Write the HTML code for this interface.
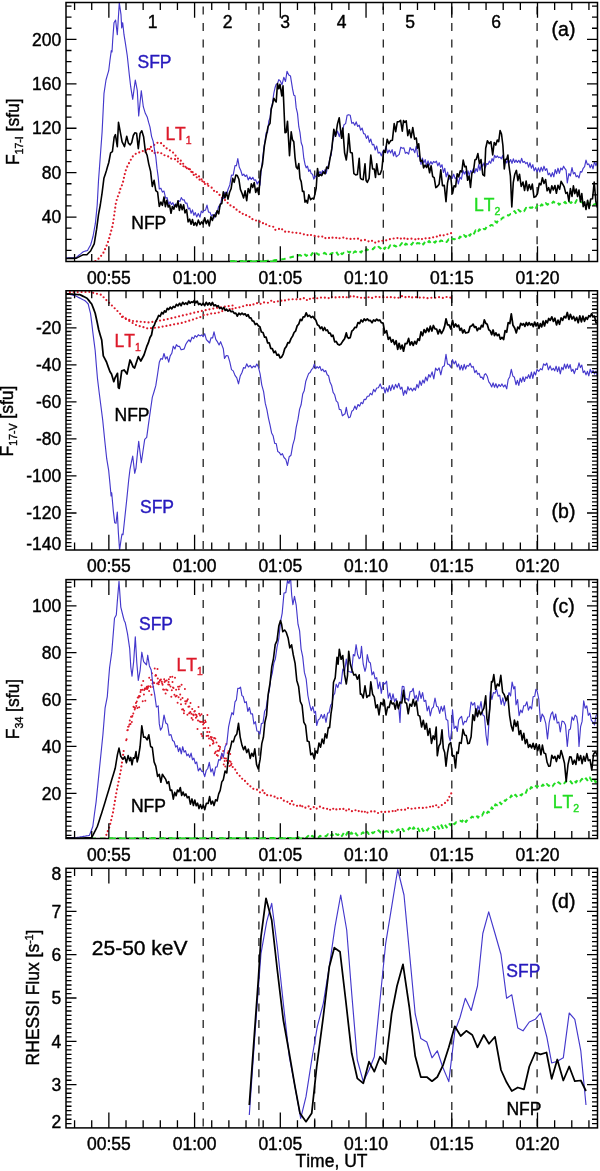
<!DOCTYPE html>
<html><head><meta charset="utf-8"><style>html,body{margin:0;padding:0;background:#fff;}svg{display:block;}text{stroke-width:0.4px;font-kerning:none;}</style></head>
<body><svg width="600" height="1171" viewBox="0 0 600 1171" font-family="'Liberation Sans', Arial, Helvetica, sans-serif" font-size="17.5"><rect width="600" height="1171" fill="#fff"/><defs><clipPath id="cpa"><rect x="66.0" y="2.5" width="531.5" height="259.0"/></clipPath><clipPath id="cpb"><rect x="66.0" y="290.75" width="531.5" height="259.25"/></clipPath><clipPath id="cpc"><rect x="66.0" y="579.6" width="531.5" height="258.9"/></clipPath><clipPath id="cpd"><rect x="66.0" y="868.3" width="531.5" height="259.60000000000014"/></clipPath></defs><line x1="203.2" y1="6.6" x2="203.2" y2="261.5" stroke="#222" stroke-width="1.3" stroke-dasharray="8 8.4"/><line x1="258.9" y1="6.6" x2="258.9" y2="261.5" stroke="#222" stroke-width="1.3" stroke-dasharray="8 8.4"/><line x1="314.7" y1="6.6" x2="314.7" y2="261.5" stroke="#222" stroke-width="1.3" stroke-dasharray="8 8.4"/><line x1="383.3" y1="6.6" x2="383.3" y2="261.5" stroke="#222" stroke-width="1.3" stroke-dasharray="8 8.4"/><line x1="451.8" y1="6.6" x2="451.8" y2="261.5" stroke="#222" stroke-width="1.3" stroke-dasharray="8 8.4"/><line x1="537.1" y1="6.6" x2="537.1" y2="261.5" stroke="#222" stroke-width="1.3" stroke-dasharray="8 8.4"/><line x1="203.2" y1="294.9" x2="203.2" y2="550.0" stroke="#222" stroke-width="1.3" stroke-dasharray="8 8.4"/><line x1="258.9" y1="294.9" x2="258.9" y2="550.0" stroke="#222" stroke-width="1.3" stroke-dasharray="8 8.4"/><line x1="314.7" y1="294.9" x2="314.7" y2="550.0" stroke="#222" stroke-width="1.3" stroke-dasharray="8 8.4"/><line x1="383.3" y1="294.9" x2="383.3" y2="550.0" stroke="#222" stroke-width="1.3" stroke-dasharray="8 8.4"/><line x1="451.8" y1="294.9" x2="451.8" y2="550.0" stroke="#222" stroke-width="1.3" stroke-dasharray="8 8.4"/><line x1="537.1" y1="294.9" x2="537.1" y2="550.0" stroke="#222" stroke-width="1.3" stroke-dasharray="8 8.4"/><line x1="203.2" y1="583.7" x2="203.2" y2="838.5" stroke="#222" stroke-width="1.3" stroke-dasharray="8 8.4"/><line x1="258.9" y1="583.7" x2="258.9" y2="838.5" stroke="#222" stroke-width="1.3" stroke-dasharray="8 8.4"/><line x1="314.7" y1="583.7" x2="314.7" y2="838.5" stroke="#222" stroke-width="1.3" stroke-dasharray="8 8.4"/><line x1="383.3" y1="583.7" x2="383.3" y2="838.5" stroke="#222" stroke-width="1.3" stroke-dasharray="8 8.4"/><line x1="451.8" y1="583.7" x2="451.8" y2="838.5" stroke="#222" stroke-width="1.3" stroke-dasharray="8 8.4"/><line x1="537.1" y1="583.7" x2="537.1" y2="838.5" stroke="#222" stroke-width="1.3" stroke-dasharray="8 8.4"/><line x1="203.2" y1="872.4" x2="203.2" y2="1127.9" stroke="#222" stroke-width="1.3" stroke-dasharray="8 8.4"/><line x1="258.9" y1="872.4" x2="258.9" y2="1127.9" stroke="#222" stroke-width="1.3" stroke-dasharray="8 8.4"/><line x1="314.7" y1="872.4" x2="314.7" y2="1127.9" stroke="#222" stroke-width="1.3" stroke-dasharray="8 8.4"/><line x1="383.3" y1="872.4" x2="383.3" y2="1127.9" stroke="#222" stroke-width="1.3" stroke-dasharray="8 8.4"/><line x1="451.8" y1="872.4" x2="451.8" y2="1127.9" stroke="#222" stroke-width="1.3" stroke-dasharray="8 8.4"/><line x1="537.1" y1="872.4" x2="537.1" y2="1127.9" stroke="#222" stroke-width="1.3" stroke-dasharray="8 8.4"/><g clip-path="url(#cpa)"><polyline points="230.3,261.3 232.3,261.3 234.3,261.2 236.3,261.2 238.2,261.2 240.2,261.2 242.2,261.2 244.2,261.1 246.2,261.1 248.2,261.1 250.2,261.1 252.1,261.0 254.1,261.0 256.1,261.0 258.1,260.9 260.1,260.9 262.1,260.9 264.0,260.9 266.0,260.9 268.0,260.8 270.0,260.8 272.0,260.5 274.0,260.3 276.0,260.0 278.0,259.8 280.0,259.5 282.0,259.3 284.0,259.0 286.0,258.5 288.0,258.0 290.0,257.5 292.0,257.0 294.0,256.5 296.0,256.0 298.0,255.5 300.1,255.0 302.2,256.5 304.2,253.9 306.3,255.9 308.4,254.3 310.5,256.2 312.5,253.1 314.6,255.4 316.7,253.3 318.6,254.7 320.6,254.0 322.5,254.8 324.5,252.8 326.4,254.1 328.4,252.3 330.3,254.2 332.2,253.0 334.2,253.7 336.1,251.6 338.1,254.7 340.0,251.6 341.9,254.2 343.8,252.7 345.7,253.4 347.6,251.5 349.5,252.7 351.4,250.4 353.3,252.8 355.2,251.3 357.2,252.9 359.1,250.8 361.1,252.5 363.1,249.6 365.0,251.3 366.9,249.2 368.9,250.6 370.9,248.9 372.8,249.3 374.8,247.2 376.7,249.0 378.6,246.8 380.6,248.4 382.5,245.9 384.5,249.0 386.4,245.6 388.4,248.2 390.3,245.3 392.2,247.5 394.2,245.5 396.1,246.5 398.1,243.8 400.0,245.5 401.9,243.1 403.9,246.2 405.8,243.6 407.8,245.0 409.7,243.1 411.6,244.6 413.6,241.8 415.5,244.3 417.5,243.1 419.4,243.4 421.4,241.5 423.3,244.5 425.2,241.5 427.2,243.3 429.1,241.0 431.1,243.3 433.1,241.2 435.0,242.7 436.9,240.2 438.9,242.3 440.9,240.5 442.8,241.1 444.8,239.8 446.7,242.0 448.6,239.3 450.5,240.8 452.4,238.7 454.3,239.3 456.2,238.4 458.1,239.8 460.0,236.6 461.9,238.0 463.9,235.1 465.9,236.9 467.8,233.2 469.8,235.8 471.7,232.5 473.6,234.5 475.6,230.4 477.5,232.7 479.4,229.3 481.4,231.3 483.3,229.0 485.2,229.2 487.2,225.9 489.1,226.7 491.1,224.9 493.1,225.5 495.0,221.4 496.9,222.6 498.9,218.9 500.9,219.5 502.8,217.6 504.8,217.6 506.7,215.0 508.6,215.5 510.6,214.0 512.5,214.2 514.4,211.1 516.4,213.8 518.3,209.8 520.2,211.6 522.2,209.5 524.1,211.2 526.1,207.8 528.0,209.6 530.0,207.5 532.0,207.8 533.9,205.4 535.9,208.0 537.8,204.5 539.8,206.8 541.7,204.4 543.6,206.0 545.6,203.0 547.5,204.8 549.4,202.7 551.4,204.0 553.3,201.6 555.2,203.1 557.2,201.7 559.1,204.7 561.1,202.8 563.0,204.1 565.0,201.8 567.0,204.4 568.9,201.5 570.9,203.0 572.8,201.4 574.8,203.8 576.7,200.1 578.6,202.4 580.6,201.9 582.5,202.7 584.4,202.4 586.4,203.7 588.3,202.6 590.1,205.1 592.0,202.7 593.8,204.7 595.7,203.8 597.5,205.3" fill="none" stroke="#22dd22" stroke-width="2.0" stroke-linejoin="round" stroke-dasharray="4.5 4"/><polyline points="95.4,261.0 97.6,259.4 99.7,257.7 101.5,255.3 103.3,253.0 105.9,247.3 108.0,242.0 109.6,236.9 111.1,231.1 112.7,225.4 114.3,214.5 115.8,203.5 117.4,197.3 119.0,194.2 120.5,188.4 122.6,183.8 124.7,174.4 126.3,168.6 127.8,165.5 129.4,162.4 130.9,159.6 132.5,156.7 134.6,154.8 136.7,153.0 138.4,152.5 140.2,152.4 141.9,151.5 143.6,150.7 145.4,152.6 147.1,149.4 149.2,148.4 151.2,146.7 153.3,145.2 155.3,144.6 157.3,142.9 159.3,142.3 161.2,143.2 163.1,145.5 164.9,146.2 166.8,148.5 168.7,149.3 170.6,151.0 172.4,151.8 174.3,154.0 176.1,156.2 178.0,158.7 179.9,159.1 181.7,162.4 183.6,164.1 185.4,166.8 187.3,168.0 189.2,169.2 191.1,171.6 192.9,174.0 194.8,176.0 196.7,177.3 198.6,178.0 200.4,181.2 202.3,181.0 204.1,183.8 206.0,184.3 207.8,185.4 209.6,186.7 211.4,187.4 213.3,189.6 215.1,192.5 216.9,192.0 218.7,193.7 220.6,196.5 222.4,198.3 224.3,199.0 226.1,201.8 228.0,203.0 229.9,205.3 231.7,205.6 233.6,206.9 235.4,209.3 237.3,210.0 239.2,211.4 241.1,213.7 242.9,213.8 244.8,213.9 246.7,215.8 248.6,216.7 250.4,216.9 252.3,219.1 254.1,220.0 256.0,220.5 257.8,221.0 259.5,221.4 261.2,223.2 263.0,223.2 264.8,224.9 266.5,224.2 268.2,225.4 270.0,226.3 271.8,226.5 273.5,226.8 275.2,229.8 277.0,229.7 278.8,228.8 280.5,230.3 282.2,229.3 284.0,231.0 285.8,232.1 287.5,232.3 289.2,231.6 291.0,231.9 292.8,232.6 294.5,233.0 296.2,232.8 298.0,233.3 299.8,233.1 301.5,233.7 303.2,233.9 305.0,235.0 306.8,234.9 308.5,235.3 310.2,234.4 312.0,235.7 313.8,235.8 315.5,236.0 317.2,236.2 319.0,236.8 320.8,237.0 322.5,236.5 324.2,238.3 326.0,238.0 327.8,238.6 329.5,237.7 331.2,238.4 333.0,237.4 334.8,237.2 336.5,237.9 338.2,239.0 340.0,238.0 341.9,238.1 343.8,237.4 345.7,238.7 347.6,238.3 349.5,238.4 351.4,239.3 353.3,239.2 355.1,238.3 356.9,238.4 358.7,238.8 360.5,240.6 362.3,240.2 364.1,239.9 365.9,240.0 367.7,241.1 369.5,241.6 371.3,240.5 373.1,241.3 374.9,242.8 376.7,241.5 378.4,241.6 380.2,240.7 381.9,240.9 383.7,240.4 385.4,240.5 387.2,240.0 388.9,239.2 390.7,239.1 392.4,239.1 394.2,238.2 395.9,238.4 397.7,238.0 399.5,237.5 401.4,239.0 403.2,239.3 405.0,237.8 406.8,239.0 408.7,238.7 410.5,238.7 412.3,238.6 414.2,239.0 416.0,239.5 417.8,238.2 419.6,239.7 421.5,239.0 423.3,239.2 425.1,238.2 427.0,238.5 428.8,238.5 430.6,237.7 432.5,237.6 434.3,236.8 436.1,236.3 438.0,236.9 439.8,235.3 441.7,236.1 443.5,235.4 445.3,234.6 447.2,234.3 449.0,234.0 451.5,233.0" fill="none" stroke="#dd1a2a" stroke-width="2.2" stroke-linejoin="round" stroke-dasharray="0 3.9" stroke-linecap="round"/><polyline points="146.0,150.0 147.8,149.8 149.5,148.9 151.2,151.4 153.0,150.5 155.0,153.4 157.0,152.1 159.0,153.4 161.0,153.0 163.0,154.9 165.0,155.4 167.0,156.3 169.0,156.5 171.0,158.6 173.0,158.8 175.0,159.1 177.0,161.5 179.0,161.6 181.0,164.8 183.0,166.0 185.0,167.0 187.0,168.3 189.0,168.0 191.0,170.9 193.0,172.5 195.0,173.9 197.0,174.7 199.0,176.4 201.0,178.5 202.8,181.5 204.5,182.3 206.2,183.2 208.0,184.0" fill="none" stroke="#dd1a2a" stroke-width="2.2" stroke-linejoin="round" stroke-dasharray="0 3.9" stroke-linecap="round"/><polyline points="66.0,257.8 67.4,257.8 68.9,257.8 70.3,257.8 71.7,257.7 73.1,257.7 74.6,257.7 76.0,257.7 77.5,256.5 78.9,255.3 80.4,254.1 81.8,252.9 83.3,251.7 84.7,251.3 86.1,250.9 87.5,250.5 89.0,247.8 90.6,245.0 91.8,240.8 93.0,236.5 94.2,229.8 95.4,223.2 97.2,205.0 98.5,180.7 100.3,156.4 102.1,132.0 104.0,93.3 106.0,80.0 107.3,75.3 108.7,70.7 110.0,60.0 111.3,50.7 112.0,52.0 112.7,40.0 114.0,22.7 115.6,20.0 117.3,34.7 119.3,2.8 121.0,14.7 121.7,28.0 122.7,22.7 124.0,34.7 125.3,42.7 127.3,56.0 129.3,74.7 130.7,86.7 132.7,99.3 134.0,89.7 135.3,80.0 137.3,90.7 138.7,116.0 140.0,103.3 141.3,90.7 143.3,106.7 145.3,113.3 147.3,117.3 148.7,122.7 150.0,127.2 151.6,136.6 153.1,141.1 154.7,151.0 155.8,156.9 157.0,168.4 158.2,177.1 159.3,189.0 160.9,188.2 162.4,192.1 164.0,191.1 165.6,198.2 167.1,197.6 168.7,204.4 170.1,201.7 171.5,204.5 172.9,202.6 174.3,207.2 175.7,203.8 177.1,205.9 178.5,200.7 179.9,201.4 181.3,197.6 182.7,200.0 184.1,199.7 185.5,203.2 186.9,203.0 188.3,209.0 189.7,208.0 191.1,213.3 192.5,209.9 193.9,215.3 195.3,212.6 196.7,216.9 198.3,213.4 200.0,217.2 201.3,211.1 202.7,212.7 204.0,210.5 205.5,210.1 207.0,205.1 208.5,212.1 210.0,212.3 211.3,215.9 212.7,214.6 214.0,218.1 215.6,212.8 217.1,212.4 218.7,206.1 220.2,206.2 221.8,198.0 223.3,198.5 224.9,192.1 226.4,195.5 228.0,189.5 229.8,184.9 231.5,175.0 233.2,175.2 235.0,165.6 236.4,165.8 237.8,158.5 239.3,167.3 240.8,170.5 242.3,175.5 243.8,174.1 245.2,176.5 246.7,175.0 248.2,179.9 249.8,176.9 251.3,179.5 252.8,177.3 254.2,180.2 255.7,179.9 257.2,184.1 258.6,181.2 260.0,185.3 261.2,170.8 262.5,160.3 263.8,148.0 265.0,141.0 266.2,132.6 267.5,132.6 268.8,121.1 270.0,117.7 271.2,107.8 272.5,102.9 273.8,93.3 275.0,87.8 276.2,84.3 277.5,83.7 278.8,79.6 280.0,80.6 282.0,84.7 283.8,77.3 285.5,81.5 287.0,71.3 288.8,75.1 290.5,76.1 292.5,88.7 293.8,95.2 295.0,95.7 296.2,107.9 297.5,113.4 298.8,126.7 300.0,132.5 301.2,142.7 302.5,146.2 303.8,158.2 305.0,164.2 306.2,167.8 307.5,166.1 308.8,171.5 310.0,169.7 311.2,173.6 312.5,174.2 313.8,179.1 315.0,176.0 316.2,176.7 317.5,172.0 318.8,173.8 320.0,171.4 321.2,174.2 322.5,170.6 323.8,173.1 325.0,169.7 326.2,173.3 327.5,167.3 328.8,164.1 330.0,157.5 331.2,155.2 332.5,142.2 333.8,136.8 335.0,131.9 336.2,134.7 337.5,131.0 339.3,136.6 340.9,130.7 342.4,131.4 344.0,124.7 345.6,123.6 347.1,115.3 348.7,114.7 350.2,115.2 351.8,123.3 353.3,122.4 354.8,125.3 356.2,121.9 357.7,126.5 359.2,125.1 360.6,130.1 362.1,128.0 363.6,133.6 365.0,134.0 366.4,138.4 367.9,135.7 369.4,142.3 370.8,139.1 372.3,144.9 373.8,144.4 375.2,150.0 376.7,146.0 378.2,153.1 379.8,152.2 381.3,155.9 382.9,151.2 384.4,152.2 386.0,146.3 387.6,153.2 389.1,150.0 390.7,152.9 392.1,149.6 393.5,156.0 394.9,151.5 396.3,156.8 397.7,155.6 399.2,154.4 400.8,147.2 402.3,148.2 403.9,147.9 405.4,153.3 407.0,152.3 408.6,154.1 410.1,147.5 411.7,150.1 413.2,149.0 414.8,152.7 416.3,146.1 417.9,156.8 419.4,155.4 421.0,164.5 422.4,158.1 423.8,162.9 425.2,159.6 426.6,165.9 428.0,160.8 429.4,165.1 430.8,161.6 432.2,164.1 433.6,161.4 435.0,162.7 436.4,161.1 437.8,165.8 439.2,162.7 440.6,167.3 442.0,164.7 443.4,172.5 444.8,168.3 446.2,176.9 447.6,172.1 449.0,179.5 450.6,176.2 452.1,178.5 453.7,174.2 455.2,178.6 456.8,177.2 458.3,184.0 459.9,177.2 461.4,179.2 463.0,170.4 464.3,174.1 465.5,171.6 466.8,175.9 468.0,170.8 469.3,175.6 470.6,170.6 472.0,172.3 473.3,168.6 474.7,173.0 476.0,168.5 477.4,171.6 478.7,164.6 480.0,170.3 481.4,163.6 482.7,166.3 484.0,162.9 485.3,167.8 486.7,163.5 488.0,164.5 489.3,161.1 490.7,163.3 492.0,158.6 493.3,161.2 494.6,155.4 496.0,157.6 497.3,155.9 498.6,157.7 500.0,157.0 501.3,158.8 502.7,155.4 504.0,162.8 505.4,159.8 506.7,163.0 508.0,159.7 509.4,162.3 510.7,159.6 512.0,163.4 513.3,158.8 514.7,162.5 516.0,160.1 517.4,162.4 518.8,160.3 520.2,163.1 521.6,158.3 523.0,162.5 524.4,161.4 525.8,163.7 527.2,162.3 528.6,167.1 530.0,162.8 531.4,168.2 532.8,164.6 534.2,170.8 535.6,167.7 537.0,171.8 538.4,167.9 539.8,172.0 541.2,167.2 542.6,171.1 544.0,166.2 545.4,170.5 546.8,168.7 548.2,174.8 549.6,173.1 551.0,176.7 552.4,172.6 553.8,176.8 555.2,169.5 556.6,173.7 558.0,168.2 559.4,173.3 560.8,168.0 562.2,169.8 563.6,166.2 565.0,168.7 566.1,170.2 567.3,183.0 568.9,173.6 570.4,175.9 572.0,167.6 573.4,173.9 574.8,172.5 576.2,176.7 577.6,175.6 579.0,178.0 580.4,171.6 581.8,172.1 583.2,168.3 584.6,166.7 586.0,160.1 587.4,164.6 588.8,163.9 590.2,167.8 591.6,164.6 593.0,168.8 594.5,161.6 596.0,165.7 597.5,161.0" fill="none" stroke="#4438cc" stroke-width="1.15" stroke-linejoin="round" /><polyline points="66.0,258.5 67.4,258.5 68.9,258.4 70.3,258.4 71.7,258.4 73.1,258.4 74.6,258.3 76.0,258.3 77.5,257.6 78.9,256.9 80.4,256.1 81.8,255.4 83.3,254.7 85.1,254.7 86.9,254.7 88.8,252.8 90.6,251.0 92.4,247.4 94.2,243.8 95.4,236.5 96.6,229.2 98.5,214.7 100.3,205.0 102.1,192.8 103.9,178.3 105.1,174.7 106.3,171.0 107.5,166.8 108.8,162.5 110.6,152.8 112.4,151.6 114.2,137.0 115.4,134.6 117.3,146.7 118.5,122.4 120.3,132.1 122.1,141.8 123.3,144.2 124.5,146.7 126.7,136.3 128.4,143.1 130.2,144.9 131.7,142.6 133.3,135.5 134.8,132.8 136.6,133.3 138.3,148.6 140.1,133.4 141.8,130.8 143.6,136.7 145.3,150.9 147.1,155.2 148.8,164.1 150.6,171.4 152.3,186.4 154.1,180.3 155.8,190.6 157.6,192.1 159.3,206.5 160.9,202.1 162.4,205.3 164.0,197.1 165.4,206.7 166.8,200.2 168.2,207.0 169.6,205.1 171.0,213.3 172.4,206.5 173.8,209.2 175.2,204.7 176.6,207.0 178.0,200.8 179.4,210.4 180.8,204.4 182.2,209.8 183.6,204.7 185.0,212.9 186.6,209.7 188.1,221.9 189.7,219.1 191.1,224.3 192.5,219.6 193.9,225.3 195.3,222.5 196.7,225.7 198.3,220.1 200.0,224.5 201.6,221.9 203.1,224.0 204.7,217.7 206.2,223.6 207.8,220.0 209.3,225.9 210.9,216.9 212.4,220.5 214.0,214.8 215.6,216.7 217.1,210.7 218.7,213.9 220.2,204.2 221.8,203.5 223.3,191.9 224.9,198.0 226.4,192.4 228.0,199.1 229.6,192.3 231.1,188.8 232.7,178.3 234.2,182.3 235.8,175.1 237.3,175.6 238.9,179.3 240.4,189.4 242.0,193.2 243.6,197.9 245.1,190.9 246.7,200.6 248.2,188.5 249.8,192.8 251.3,183.9 252.8,187.4 254.2,182.6 255.7,192.5 257.2,188.0 258.8,194.5 260.6,171.9 262.5,164.0 264.4,145.9 266.2,136.2 268.1,126.4 270.0,123.4 271.2,109.2 272.5,104.6 273.8,98.2 275.0,100.4 276.2,102.0 277.5,83.6 278.8,88.7 280.0,84.4 281.8,95.9 283.0,85.8 285.0,132.8 286.2,132.2 287.5,121.2 289.5,155.6 291.2,131.9 292.5,139.8 293.8,141.7 295.0,157.3 296.2,167.0 297.5,168.8 298.8,163.6 300.0,178.5 301.2,181.6 302.5,191.4 303.8,191.2 305.0,202.1 306.2,200.3 307.5,203.1 308.8,194.8 310.6,199.7 312.5,198.2 313.8,199.1 315.0,193.6 316.2,188.0 317.5,168.5 318.8,176.3 320.0,174.5 321.7,175.6 323.3,171.9 325.0,173.8 326.7,167.0 328.3,168.4 330.0,158.7 331.9,148.2 333.8,129.3 335.6,136.2 337.5,123.9 339.2,117.7 340.5,129.7 341.6,138.3 342.8,128.0 344.6,152.8 346.3,160.0 347.5,150.3 348.7,133.7 350.4,152.4 352.2,153.1 353.9,173.7 355.7,174.9 357.4,174.5 359.2,158.3 360.4,177.9 361.5,179.2 363.2,179.6 365.0,163.8 366.1,180.5 367.3,182.3 369.1,178.4 370.8,155.1 372.6,168.9 374.3,169.0 375.5,177.4 376.7,163.7 378.4,174.5 380.2,174.1 381.9,169.2 383.7,150.3 385.4,152.4 387.2,139.2 388.9,143.7 390.7,140.6 392.4,140.2 394.2,123.6 395.7,131.7 397.3,121.9 398.8,121.8 400.6,120.3 402.3,131.2 403.5,120.5 404.7,122.4 406.2,120.9 407.8,135.6 409.3,129.8 411.1,137.7 412.8,127.5 414.6,139.2 416.3,138.0 417.5,148.1 418.7,143.8 420.4,161.2 422.2,160.2 423.6,167.9 425.1,165.1 426.6,167.5 428.0,164.2 429.6,172.8 431.1,165.7 432.7,176.6 434.2,177.7 435.8,187.6 437.3,186.5 439.1,184.2 440.8,169.8 442.5,185.7 444.3,185.4 446.0,201.6 447.5,183.2 449.0,175.3 450.8,177.1 452.5,193.5 454.1,185.7 455.6,186.8 457.2,173.7 458.7,176.8 460.3,170.8 461.8,172.0 463.2,160.1 464.7,166.7 466.1,166.2 467.6,180.3 469.1,176.0 470.5,187.5 471.9,173.0 473.4,171.9 474.9,160.0 476.3,159.2 477.9,153.5 479.4,163.7 481.0,159.6 482.8,174.6 484.5,175.9 485.7,148.3 487.4,140.8 489.2,143.6 490.9,141.7 492.7,154.9 494.2,142.5 495.8,145.1 497.3,140.1 498.7,141.6 500.1,130.5 501.5,134.0 502.9,145.5 504.3,168.9 505.5,159.2 506.7,159.3 507.9,155.0 509.0,165.8 510.4,175.9 511.8,207.0 513.3,182.3 514.8,174.2 516.4,170.4 517.9,180.6 519.5,174.2 521.2,186.5 523.0,182.1 524.6,190.5 526.1,181.0 527.7,190.6 529.2,184.5 530.8,189.5 532.3,184.1 534.0,197.4 535.8,196.5 537.5,193.7 539.3,183.4 540.9,184.8 542.4,177.7 544.0,183.5 545.6,179.5 547.1,190.8 548.7,187.6 550.2,193.0 551.8,185.8 553.3,190.0 554.9,185.5 556.4,193.3 558.0,185.2 559.6,189.3 561.1,181.3 562.7,184.2 564.2,186.9 565.8,193.4 567.3,192.4 568.9,201.2 570.4,188.6 572.0,196.4 573.4,185.9 574.8,193.6 576.2,189.0 577.6,196.5 579.0,190.0 580.4,201.8 581.8,193.6 583.2,206.6 584.6,201.9 586.0,209.5 587.6,200.2 589.1,208.5 590.7,199.0 592.5,198.8 594.2,182.1 595.9,201.7 597.5,207.7" fill="none" stroke="#000" stroke-width="1.6" stroke-linejoin="round" /></g><g clip-path="url(#cpb)"><polyline points="66.0,292.3 67.9,292.3 69.9,292.2 71.8,292.2 73.8,292.2 75.7,292.1 77.7,292.1 79.6,292.1 81.5,292.0 83.5,292.0 85.4,292.0 87.4,291.9 89.3,291.9 91.2,292.4 93.2,292.8 95.2,293.3 97.1,293.8 99.0,294.2 101.0,294.7 103.0,296.6 104.9,298.6 106.8,300.5 108.8,302.4 110.8,304.4 112.7,306.3 114.6,308.2 116.6,310.2 118.5,312.1 120.4,314.1 122.4,316.1 124.3,318.0 126.2,319.2 128.2,320.3 130.2,321.5 132.1,322.7 134.1,323.8 136.0,325.0 137.9,325.6 139.9,326.2 141.8,326.8 143.8,327.3 145.8,327.9 147.7,328.5 149.6,328.3 151.6,328.1 153.5,327.9 155.4,327.7 157.4,327.5 159.3,327.3 161.2,326.9 163.2,326.5 165.2,326.1 167.1,325.8 169.1,325.4 171.0,325.0 172.9,324.6 174.9,324.2 176.8,323.9 178.8,323.5 180.8,323.1 182.7,322.7 184.6,322.1 186.6,321.5 188.5,320.9 190.4,320.4 192.4,319.8 194.3,319.2 196.2,318.4 198.2,317.6 200.2,317.1 202.1,316.1 204.1,314.7 206.0,314.5 207.9,314.6 209.8,313.9 211.8,313.5 213.7,313.0 215.6,313.4 217.5,312.7 219.5,312.4 221.4,311.2 223.3,311.0 225.2,310.3 227.2,309.5 229.2,309.4 231.1,307.6 233.1,309.5 235.0,308.2 236.9,307.7 238.9,307.6 240.8,306.5 242.8,306.3 244.8,306.1 246.7,305.2 248.6,304.1 250.6,305.6 252.5,304.4 254.5,304.4 256.4,303.2 258.4,303.1 260.3,304.1 262.2,302.6 264.2,302.4 266.1,302.5 268.1,302.8 270.0,301.7 271.9,300.2 273.9,302.1 275.8,301.3 277.8,301.4 279.7,300.2 281.6,300.7 283.6,301.2 285.5,300.1 287.5,299.6 289.4,299.5 291.4,299.2 293.3,299.3 295.2,299.6 297.2,299.2 299.1,298.8 301.1,299.4 303.1,298.3 305.0,298.0 306.9,300.0 308.9,298.2 310.9,299.4 312.8,298.3 314.8,298.2 316.7,298.2 318.6,298.4 320.6,297.6 322.5,297.5 324.5,297.7 326.4,297.5 328.4,298.0 330.3,298.6 332.2,296.8 334.2,296.8 336.1,297.6 338.1,297.4 340.0,297.0 342.0,297.6 344.0,296.6 346.0,297.4 348.0,297.0 350.0,296.2 352.0,297.3 354.0,296.3 356.0,297.4 358.0,296.9 360.0,297.1 362.0,298.3 364.0,298.0 366.0,297.4 368.0,297.4 370.0,296.8 372.0,297.9 374.0,297.6 376.0,296.8 378.0,296.4 380.0,297.3 382.0,297.3 384.0,297.2 386.0,297.8 388.0,296.8 390.0,296.9 392.0,297.6 394.0,297.4 396.0,297.9 398.0,298.0 400.0,296.9 402.0,296.2 404.0,297.5 406.0,297.0 408.0,297.6 410.0,296.0 412.0,297.4 414.0,297.5 416.0,297.2 418.0,297.8 420.0,297.5 421.9,297.6 423.9,297.6 425.8,298.2 427.8,298.2 429.7,298.2 431.6,297.7 433.6,297.6 435.5,297.8 437.4,297.7 439.4,297.1 441.3,297.7 443.2,298.0 445.2,297.3 447.1,296.9 449.1,297.8 451.0,297.5" fill="none" stroke="#dd1a2a" stroke-width="2.2" stroke-linejoin="round" stroke-dasharray="0 3.9" stroke-linecap="round"/><polyline points="122.0,317.0 132.7,321.0 149.3,322.5 166.0,319.5 182.7,315.5 199.3,311.5 216.0,308.0 232.7,305.5" fill="none" stroke="#dd1a2a" stroke-width="2.2" stroke-linejoin="round" stroke-dasharray="0 3.9" stroke-linecap="round"/><polyline points="66.0,293.5 67.5,293.9 69.1,294.3 70.7,294.6 72.2,295.0 73.8,295.4 75.3,295.8 76.9,296.6 78.4,297.4 80.0,298.1 81.6,298.9 83.1,299.7 84.7,300.5 86.5,302.2 88.2,304.0 89.3,308.6 90.5,313.3 91.7,322.6 92.8,332.0 94.0,341.4 95.2,350.7 96.3,364.7 97.5,378.7 99.2,392.7 101.0,406.7 102.7,420.0 104.7,440.0 106.7,458.7 108.7,470.7 110.0,484.0 111.1,496.0 111.7,492.7 113.3,510.7 114.7,522.7 116.0,523.3 117.3,512.0 118.4,533.3 119.6,550.0 121.0,540.0 122.0,534.0 123.0,534.7 124.7,518.7 126.7,500.0 128.7,480.0 130.0,469.3 131.3,462.6 132.7,456.0 134.7,473.3 136.0,468.0 137.3,454.6 138.7,441.3 140.0,452.0 141.3,462.7 143.0,451.0 144.7,439.3 146.7,437.3 148.7,422.7 150.5,410.0 152.3,397.3 154.1,391.5 155.8,385.7 157.6,374.0 159.3,362.3 160.9,358.5 162.4,359.3 164.0,353.5 165.6,359.0 167.1,356.7 168.7,362.1 170.2,355.9 171.8,353.3 173.3,346.2 174.9,349.0 176.4,344.7 178.0,346.4 179.6,346.4 181.1,349.8 182.7,349.4 184.2,348.9 185.8,344.2 187.3,341.9 188.9,339.8 190.4,341.8 192.0,337.2 193.6,338.7 195.1,335.6 196.7,337.1 198.3,334.7 200.0,335.9 201.6,334.9 203.1,336.7 204.7,333.7 206.4,339.6 208.2,341.5 209.6,343.0 211.1,337.7 212.6,338.0 214.0,331.9 215.8,339.4 217.5,341.9 219.1,345.0 220.6,341.7 222.2,345.9 223.3,348.7 224.5,358.5 226.2,355.6 228.0,355.8 229.8,361.8 231.5,369.6 233.2,370.9 235.0,375.4 236.8,377.9 238.5,383.8 240.2,376.1 242.0,372.5 243.6,367.5 245.1,368.2 246.7,363.9 248.4,367.0 250.2,365.4 251.9,367.9 253.7,366.0 255.2,367.2 256.8,364.1 258.3,366.6 260.1,373.8 261.8,385.1 263.6,391.7 265.3,403.4 266.9,409.6 268.4,417.8 270.0,424.8 271.6,432.9 273.1,435.7 274.7,443.4 276.2,443.5 277.8,451.6 279.3,452.4 280.9,455.0 282.4,453.6 284.0,457.5 285.8,459.4 287.5,465.5 289.2,456.7 291.0,455.2 292.8,444.9 294.5,439.1 296.2,427.3 298.0,419.2 299.6,409.1 301.1,404.8 302.7,394.1 304.2,390.8 305.8,381.2 307.3,377.1 308.7,373.4 310.1,372.6 311.5,369.7 312.9,368.4 314.3,364.2 315.7,368.7 317.1,366.7 318.5,368.2 319.9,366.4 321.3,370.6 322.8,369.2 324.2,371.7 325.7,370.5 327.2,374.7 328.6,375.8 330.0,382.0 331.6,385.4 333.1,392.4 334.7,394.8 336.2,400.9 337.8,402.4 339.3,409.4 340.9,409.7 342.4,415.8 344.0,414.5 345.1,413.7 346.3,407.4 347.5,414.1 348.7,417.8 350.2,417.1 351.8,411.3 353.3,410.1 354.9,406.0 356.4,409.4 358.0,404.5 359.6,406.2 361.1,402.4 362.7,403.7 364.2,399.3 365.8,399.6 367.3,396.3 368.9,396.2 370.4,393.3 372.0,394.9 373.6,389.4 375.1,391.8 376.7,388.0 378.4,387.7 380.2,383.9 381.9,388.6 383.7,387.4 385.1,393.0 386.5,387.9 387.9,391.8 389.3,385.6 390.7,390.6 392.3,384.8 393.9,389.4 395.6,384.4 397.2,387.8 398.8,383.3 400.4,389.1 401.9,387.1 403.5,395.3 404.9,390.3 406.4,393.8 407.9,386.7 409.3,390.2 410.9,388.1 412.4,390.9 414.0,388.1 415.4,390.3 416.9,384.4 418.4,387.8 419.8,380.9 421.3,385.4 422.8,380.1 424.2,383.1 425.7,377.0 427.2,380.9 428.8,374.5 430.3,377.1 432.1,371.9 433.8,378.9 435.6,368.1 437.3,370.5 439.1,367.9 440.8,374.8 442.5,366.9 444.3,365.8 446.0,354.3 447.5,364.2 449.0,364.4 450.8,367.3 452.5,359.6 454.1,363.9 455.6,361.0 457.2,366.9 458.6,363.9 460.0,369.9 461.4,365.4 462.8,370.1 464.2,364.3 465.6,369.0 467.0,365.4 468.6,366.2 470.1,363.3 471.7,367.2 473.2,366.4 474.8,372.7 476.3,370.4 477.7,374.4 479.1,373.3 480.5,377.4 481.9,377.1 483.3,379.4 484.5,374.4 485.7,373.7 487.2,376.2 488.8,381.8 490.3,383.9 491.7,387.0 493.1,382.9 494.5,387.2 495.9,383.7 497.3,387.8 498.9,384.4 500.4,386.5 502.0,383.9 503.6,386.9 505.1,384.9 506.7,388.8 508.2,379.5 509.8,376.7 511.3,369.4 512.9,376.1 514.4,377.3 516.0,384.7 517.4,380.4 518.8,385.4 520.2,378.2 521.6,382.2 523.0,376.8 524.4,381.5 525.8,376.9 527.2,378.4 528.6,374.7 530.0,378.5 531.4,372.1 532.8,378.4 534.2,371.9 535.6,374.9 537.0,369.5 538.8,371.3 540.5,368.7 542.1,369.9 543.6,363.9 545.2,365.4 546.8,363.2 548.4,369.8 550.1,365.9 551.7,370.1 553.3,368.3 554.7,370.8 556.1,366.2 557.5,371.6 558.9,366.8 560.3,373.8 561.7,367.3 563.1,369.8 564.5,364.1 565.9,368.7 567.3,364.1 568.7,368.3 570.1,364.6 571.5,371.3 572.9,369.3 574.3,373.6 575.9,368.7 577.4,369.4 579.0,362.9 580.4,367.6 581.8,365.0 583.2,372.6 584.6,370.9 586.0,374.9 587.4,371.4 588.8,375.8 590.2,369.2 591.6,373.0 593.0,370.5 594.5,374.0 596.0,371.2 597.5,376.3" fill="none" stroke="#4438cc" stroke-width="1.15" stroke-linejoin="round" /><polyline points="66.0,293.7 67.6,293.8 69.1,293.9 70.7,294.0 72.2,294.1 73.8,294.3 75.3,294.4 76.9,294.5 78.4,294.6 80.0,294.7 81.4,295.4 82.8,296.1 84.2,296.8 85.6,297.5 87.0,298.2 88.6,300.1 90.1,302.1 91.7,304.0 93.5,308.6 95.2,313.3 97.0,321.5 98.7,329.7 100.2,334.9 101.7,340.0 103.3,355.8 104.9,358.9 106.5,362.0 108.2,366.9 110.0,371.7 111.5,374.0 112.7,377.9 113.8,381.7 115.0,378.0 116.2,375.6 117.5,373.3 118.3,387.5 119.2,388.3 120.2,382.0 121.7,370.8 123.0,370.4 124.2,370.0 125.6,372.0 127.0,374.0 128.5,367.0 130.0,360.0 131.5,363.0 133.0,366.7 134.6,368.0 136.4,362.4 138.3,356.7 139.6,358.9 140.8,361.0 142.4,358.0 144.0,355.0 145.3,350.9 146.7,346.7 148.3,342.9 150.0,337.5 151.5,335.0 153.0,327.1 154.3,325.2 155.7,321.2 157.0,319.3 158.6,315.5 160.1,316.3 161.7,312.5 163.1,313.8 164.5,310.9 165.9,312.0 167.3,308.3 168.7,309.5 170.2,307.1 171.8,308.8 173.3,306.5 174.9,307.4 176.4,304.3 178.0,305.8 179.6,303.3 181.1,305.7 182.7,302.4 184.2,304.3 185.8,302.9 187.3,304.3 188.7,301.1 190.1,303.2 191.5,301.9 192.9,302.4 194.3,300.5 195.7,302.9 197.2,301.1 198.6,304.5 200.0,303.5 201.6,305.2 203.1,303.3 204.7,305.7 206.2,302.3 207.8,305.0 209.3,302.8 210.9,305.3 212.4,302.5 214.0,305.8 215.4,304.8 216.8,306.6 218.2,305.7 219.6,308.4 221.0,307.6 222.4,309.2 223.8,307.5 225.2,310.4 226.6,309.3 228.0,311.1 229.6,309.9 231.1,311.8 232.7,311.2 234.2,313.3 235.8,313.2 237.3,316.1 238.9,313.2 240.4,314.7 242.0,313.1 243.6,314.7 245.1,313.8 246.7,316.2 248.1,314.7 249.5,317.9 250.9,317.9 252.3,320.9 253.7,321.2 255.2,324.5 256.8,323.6 258.3,325.8 259.9,326.7 261.4,332.0 263.0,332.5 264.6,337.2 266.1,337.2 267.7,342.9 269.2,342.8 270.8,348.4 272.3,348.6 273.9,352.6 275.4,351.2 277.0,355.2 278.6,354.4 280.1,357.9 281.7,356.9 283.2,354.1 284.8,348.5 286.3,346.6 287.9,342.7 289.4,342.8 291.0,338.6 292.6,336.1 294.1,332.5 295.7,330.8 297.2,325.8 298.8,324.0 300.3,319.4 301.8,320.5 303.2,316.8 304.7,316.8 306.2,312.9 307.8,316.4 309.4,315.3 311.1,317.5 312.7,316.4 314.3,318.4 315.9,320.3 317.4,324.8 319.0,325.8 320.4,328.5 321.8,327.0 323.2,330.5 324.6,327.5 326.0,330.5 327.4,330.0 328.8,333.2 330.2,333.1 331.6,336.3 333.0,335.2 334.7,341.9 336.2,341.5 337.8,344.2 339.3,345.1 341.1,343.9 342.8,341.1 344.6,338.7 346.3,332.9 347.5,337.4 348.7,338.3 350.2,337.6 351.8,331.2 353.3,329.9 354.9,327.3 356.4,327.5 358.0,322.6 359.6,323.5 361.1,320.0 362.7,321.8 364.2,319.0 365.8,320.5 367.3,318.9 368.9,320.7 370.4,320.4 372.0,322.7 373.6,319.9 375.1,321.1 376.7,319.1 378.2,320.6 379.8,320.0 381.3,322.7 383.1,323.2 384.8,333.0 386.6,330.8 388.3,339.3 389.9,337.2 391.4,342.1 393.0,339.7 394.6,344.5 396.1,340.7 397.7,349.3 399.1,343.3 400.6,348.9 402.1,345.1 403.5,351.2 405.2,343.5 407.0,343.6 408.6,338.4 410.1,345.0 411.7,341.9 413.2,345.4 414.8,341.3 416.3,344.0 417.9,338.9 419.4,340.4 421.0,331.9 422.6,335.6 424.1,329.7 425.7,332.5 427.2,328.1 428.8,331.7 430.3,326.2 431.9,331.0 433.4,325.5 435.0,328.9 436.6,329.1 438.1,333.9 439.7,329.6 441.4,333.5 443.2,330.4 444.6,326.4 446.0,318.8 447.5,324.8 449.0,324.9 450.8,329.0 452.5,320.3 454.1,327.2 455.6,324.0 457.2,326.7 458.6,325.2 460.0,330.3 461.4,328.3 462.8,332.9 464.2,329.9 465.6,333.0 467.0,332.7 468.6,332.1 470.1,326.6 471.7,325.8 473.1,324.2 474.5,327.4 475.9,326.6 477.3,330.7 478.7,328.1 480.1,329.1 481.5,325.4 482.9,326.9 484.3,319.8 485.7,323.2 487.2,324.2 488.8,329.8 490.3,330.9 491.7,334.7 493.1,330.0 494.5,335.6 495.9,332.9 497.3,335.7 498.9,334.3 500.4,339.2 502.0,337.4 503.6,339.5 505.1,330.7 506.7,332.2 508.2,322.7 509.8,323.5 511.3,313.8 513.0,325.3 514.8,328.3 516.3,332.9 517.8,327.1 519.2,328.8 520.7,323.4 522.1,325.0 523.5,323.7 524.9,326.4 526.3,322.5 527.7,325.4 529.1,322.6 530.5,325.1 531.9,323.7 533.3,326.6 534.7,322.1 536.1,326.0 537.5,322.8 538.9,328.4 540.3,323.7 541.7,326.9 543.1,321.1 544.5,325.9 545.9,320.7 547.3,322.9 548.7,318.5 550.2,320.4 551.8,316.8 553.4,321.4 554.9,318.2 556.5,324.9 558.0,320.2 559.5,324.3 561.1,317.9 562.6,320.4 564.2,316.3 565.8,317.8 567.3,312.5 568.9,319.4 570.4,314.3 572.0,319.0 573.6,316.5 575.1,320.7 576.7,317.4 578.2,322.7 579.8,315.9 581.4,321.8 582.9,316.2 584.5,321.3 586.0,317.4 587.4,319.3 588.8,315.7 590.2,316.7 591.6,313.6 593.0,316.8 594.5,316.1 596.0,322.9 597.5,322.7" fill="none" stroke="#000" stroke-width="1.75" stroke-linejoin="round" /></g><g clip-path="url(#cpc)"><polyline points="66.0,838.5 68.0,838.5 70.0,838.5 72.0,838.5 74.0,838.5 76.0,838.5 78.0,838.5 80.0,838.5 82.0,838.5 84.0,838.5 86.0,838.5 88.0,838.5 90.0,838.4 92.0,838.4 94.0,838.4 96.0,838.4 98.0,838.4 100.0,838.4 102.0,838.4 104.0,838.4 106.1,838.4 108.1,838.4 110.1,838.4 112.1,838.4 114.1,838.4 116.1,838.4 118.1,838.4 120.1,838.4 122.1,838.4 124.1,838.4 126.1,838.4 128.1,838.4 130.1,838.4 132.1,838.4 134.1,838.4 136.1,838.4 138.1,838.3 140.1,838.3 142.1,838.3 144.1,838.3 146.1,838.3 148.1,838.3 150.1,838.3 152.1,838.3 154.1,838.3 156.1,838.3 158.1,838.3 160.1,838.3 162.1,838.3 164.1,838.3 166.1,838.3 168.1,838.3 170.1,838.3 172.1,838.3 174.1,838.3 176.1,838.3 178.1,838.3 180.1,838.3 182.1,838.3 184.2,838.2 186.2,838.2 188.2,838.2 190.2,838.2 192.2,838.2 194.2,838.2 196.2,838.2 198.2,838.2 200.2,838.2 202.2,838.2 204.2,838.2 206.2,838.2 208.2,838.2 210.2,838.2 212.2,838.2 214.2,838.2 216.2,838.2 218.2,838.2 220.2,838.2 222.2,838.2 224.2,838.2 226.2,838.2 228.2,838.2 230.2,838.1 232.2,838.1 234.2,838.1 236.2,838.1 238.2,838.1 240.2,838.1 242.2,838.1 244.2,838.1 246.2,838.1 248.2,838.1 250.2,838.1 252.2,838.1 254.2,838.1 256.2,838.1 258.2,838.1 260.2,838.1 262.3,838.1 264.3,838.1 266.3,838.1 268.3,838.1 270.3,838.1 272.3,838.1 274.3,838.1 276.3,838.1 278.3,838.0 280.3,838.0 282.3,838.0 284.3,838.0 286.3,838.0 288.3,838.0 290.3,838.0 292.3,838.0 294.3,838.0 296.3,838.0 298.3,838.0 300.3,835.9 302.3,840.0 304.3,835.7 306.3,837.8 308.2,835.9 310.2,838.2 312.2,835.7 314.2,837.3 316.2,836.1 318.2,837.6 320.1,835.7 322.1,837.3 324.1,835.8 326.1,836.2 328.1,834.1 330.1,836.6 332.1,834.1 334.0,836.9 336.0,834.1 338.0,835.1 340.0,832.9 341.9,836.0 343.8,833.0 345.7,835.9 347.6,832.2 349.5,835.3 351.4,832.5 353.3,835.1 355.2,832.7 357.2,835.4 359.1,832.9 361.1,833.9 363.1,832.3 365.0,834.9 366.9,831.7 368.9,834.0 370.9,831.3 372.8,833.2 374.8,831.9 376.7,833.1 378.6,830.3 380.6,832.5 382.5,831.3 384.5,831.9 386.4,831.1 388.4,831.9 390.3,829.6 392.2,832.6 394.2,829.7 396.1,831.3 398.1,829.4 400.0,830.8 401.9,828.1 403.9,831.1 405.8,829.0 407.8,830.0 409.7,827.7 411.6,831.0 413.6,827.4 415.5,829.9 417.5,827.8 419.4,831.1 421.4,827.5 423.3,830.9 425.2,828.0 427.2,830.4 429.1,827.6 431.1,828.7 433.1,827.1 435.0,828.9 436.9,825.2 438.9,828.7 440.9,824.3 442.8,828.0 444.8,824.3 446.7,827.5 448.6,823.1 450.5,825.2 452.4,821.6 454.3,824.2 456.2,822.2 458.1,822.6 460.0,820.7 462.0,821.7 464.0,818.4 466.0,822.0 468.0,818.6 470.0,818.9 472.0,816.6 474.0,817.7 476.0,815.2 478.0,817.7 480.0,814.5 482.0,815.6 484.0,811.8 486.0,814.3 488.0,811.6 489.9,812.9 491.7,807.4 493.6,809.6 495.4,804.3 497.3,805.3 499.3,801.7 501.3,804.2 503.3,799.8 505.3,801.0 507.3,798.5 509.3,799.3 511.3,795.5 513.3,798.0 515.3,794.7 517.3,797.2 519.3,794.3 521.3,795.5 523.3,792.5 525.3,794.0 527.2,789.6 529.2,791.0 531.1,787.1 533.1,788.4 535.0,785.5 537.0,787.0 539.0,785.1 540.9,787.0 542.9,784.6 544.8,786.8 546.8,784.0 548.7,785.9 550.6,784.2 552.6,786.3 554.5,783.5 556.4,785.3 558.4,782.2 560.3,783.8 562.2,781.7 564.2,783.3 566.1,781.2 568.1,782.5 570.0,780.6 572.0,783.4 574.0,780.1 576.0,782.5 578.0,779.4 580.0,781.5 582.0,778.9 584.0,781.2 586.0,778.4 587.9,781.1 589.8,777.5 591.8,781.0 593.7,778.5 595.6,782.2 597.5,781.0" fill="none" stroke="#22dd22" stroke-width="2.0" stroke-linejoin="round" stroke-dasharray="4.5 4"/><polyline points="105.0,838.5 109.6,826.5 112.9,813.0 116.3,792.9 120.8,770.5 124.1,748.1" fill="none" stroke="#dd1a2a" stroke-width="2.2" stroke-linejoin="round" stroke-dasharray="0 3.9" stroke-linecap="round"/><path d="M126.2 740.2h0.01M126.6 739.2h0.01M127.3 730.3h0.01M127.8 729.9h0.01M128.1 726.8h0.01M128.7 726.6h0.01M129.4 724.5h0.01M129.8 720.6h0.01M130.5 724.0h0.01M131.0 716.7h0.01M131.8 722.0h0.01M132.0 716.8h0.01M132.4 715.9h0.01M133.3 713.6h0.01M133.5 706.8h0.01M134.1 707.3h0.01M134.7 709.4h0.01M135.1 707.9h0.01M135.9 702.9h0.01M136.3 705.9h0.01M136.8 701.6h0.01M137.4 707.9h0.01M137.7 697.5h0.01M138.6 697.4h0.01M139.0 695.9h0.01M139.2 707.3h0.01M139.9 696.2h0.01M140.5 692.0h0.01M140.8 690.0h0.01M141.6 685.2h0.01M142.3 689.7h0.01M142.7 701.3h0.01M143.2 681.1h0.01M143.9 694.4h0.01M144.2 689.9h0.01M144.8 688.4h0.01M145.3 700.7h0.01M145.7 688.7h0.01M146.2 687.9h0.01M146.8 686.7h0.01M147.2 688.9h0.01M148.0 687.8h0.01M148.2 686.2h0.01M149.1 691.0h0.01M149.2 677.7h0.01M150.2 686.3h0.01M150.7 686.9h0.01M151.0 679.9h0.01M151.5 694.7h0.01M151.9 673.2h0.01M152.5 683.5h0.01M153.2 687.1h0.01M153.7 682.5h0.01M154.2 682.9h0.01M154.7 668.6h0.01M155.4 675.8h0.01M155.8 675.0h0.01M156.1 675.5h0.01M157.1 683.5h0.01M157.5 669.0h0.01M157.8 678.6h0.01M158.5 682.3h0.01M158.7 684.3h0.01M159.3 682.0h0.01M159.9 680.2h0.01M160.4 680.2h0.01M160.9 679.5h0.01M161.8 681.7h0.01M162.2 683.6h0.01M162.6 684.7h0.01M163.1 689.6h0.01M164.0 689.7h0.01M164.2 679.2h0.01M164.6 682.1h0.01M165.2 681.0h0.01M165.6 693.5h0.01M166.1 689.4h0.01M166.7 680.4h0.01M167.4 690.2h0.01M168.2 684.5h0.01M168.6 681.9h0.01M168.9 679.2h0.01M169.3 684.7h0.01M170.2 676.9h0.01M170.5 686.5h0.01M171.3 696.7h0.01M171.8 690.3h0.01M172.3 676.8h0.01M172.5 681.9h0.01M173.0 687.5h0.01M173.5 688.0h0.01M174.4 694.7h0.01M175.0 677.7h0.01M175.6 696.4h0.01M176.1 689.7h0.01M176.2 695.9h0.01M176.7 695.8h0.01M177.6 702.7h0.01M178.1 686.7h0.01M178.6 697.2h0.01M178.8 689.3h0.01M179.7 686.4h0.01M180.2 694.5h0.01M180.7 699.4h0.01M181.0 704.3h0.01M181.6 684.7h0.01M182.1 709.6h0.01M182.5 697.9h0.01M183.0 709.2h0.01M183.9 713.3h0.01M184.1 710.7h0.01M184.9 689.0h0.01M185.2 701.3h0.01M185.6 703.8h0.01M186.6 701.6h0.01M187.1 700.6h0.01M187.4 714.7h0.01M187.8 699.3h0.01M188.4 706.8h0.01M189.1 713.2h0.01M189.4 706.5h0.01M190.3 711.9h0.01M190.5 703.0h0.01M191.3 713.7h0.01M191.6 718.1h0.01M192.2 709.1h0.01M192.7 719.7h0.01M193.1 714.4h0.01M193.5 715.3h0.01M194.3 711.6h0.01M194.9 710.9h0.01M195.4 714.6h0.01M195.9 717.7h0.01M196.4 714.9h0.01M196.8 716.4h0.01M197.5 729.1h0.01M198.0 720.5h0.01M198.5 707.0h0.01M199.1 713.7h0.01M199.7 721.4h0.01M200.1 715.4h0.01M200.9 721.9h0.01M201.3 734.1h0.01M201.5 714.3h0.01M202.2 736.1h0.01M202.5 721.8h0.01M203.1 724.4h0.01M203.6 728.3h0.01M204.1 723.0h0.01M205.1 720.4h0.01M205.2 727.9h0.01M205.7 721.9h0.01M206.6 736.1h0.01M207.2 731.9h0.01M207.4 715.0h0.01M208.2 735.7h0.01M208.4 728.0h0.01M209.0 738.5h0.01M209.4 732.1h0.01M209.9 745.5h0.01M210.7 736.9h0.01M211.1 738.9h0.01M211.8 737.3h0.01M212.5 740.3h0.01M212.9 743.8h0.01M213.2 740.9h0.01M213.6 742.9h0.01M214.1 738.1h0.01M214.8 753.2h0.01M215.3 738.5h0.01M215.7 751.8h0.01M216.5 742.4h0.01M216.8 755.0h0.01M217.5 750.7h0.01M217.8 755.8h0.01M218.7 746.0h0.01M218.9 750.8h0.01M219.8 749.0h0.01M220.1 747.1h0.01M220.9 758.4h0.01M221.1 757.2h0.01M221.6 758.1h0.01M222.0 754.3h0.01M222.6 755.5h0.01M223.2 751.1h0.01M223.7 764.6h0.01M224.4 758.2h0.01M224.6 761.1h0.01M225.3 766.5h0.01M226.0 758.5h0.01M226.3 744.1h0.01M226.8 760.7h0.01M227.7 753.1h0.01M228.2 762.9h0.01M228.5 751.2h0.01M229.4 760.9h0.01M229.5 766.1h0.01M230.2 754.1h0.01M230.6 761.7h0.01M231.0 765.1h0.01M231.5 763.8h0.01" stroke="#dd1a2a" stroke-width="2.0" stroke-linecap="round" fill="none"/><polyline points="232.7,767.0 234.2,767.5 235.8,770.7 237.3,773.5 238.9,774.6 240.4,776.9 242.0,778.7 243.7,779.0 245.3,781.5 247.0,782.9 248.7,785.5 250.4,786.3 252.0,787.7 253.7,789.2 255.3,789.2 257.0,789.7 258.6,790.9 260.2,792.6 261.9,790.5 263.5,790.3 265.1,794.9 266.7,795.2 268.4,795.0 270.0,795.0 271.6,796.0 273.1,796.0 274.7,796.7 276.2,796.6 277.8,798.7 279.3,798.7 280.9,797.9 282.4,799.7 284.0,800.8 285.6,800.9 287.1,801.3 288.7,804.0 290.2,803.8 291.8,800.8 293.3,804.4 294.9,805.4 296.4,806.1 298.0,805.5 299.6,806.5 301.1,804.4 302.7,807.0 304.2,806.6 305.8,808.0 307.3,807.5 308.9,806.1 310.4,809.1 312.0,807.8 313.6,807.0 315.1,809.0 316.7,808.6 318.2,807.9 319.8,806.6 321.3,807.9 322.9,808.0 324.4,808.7 326.0,809.0 327.6,808.8 329.1,810.4 330.7,809.4 332.2,810.0 333.8,808.0 335.3,808.7 336.9,809.8 338.4,809.9 340.0,809.0 341.7,809.8 343.3,808.9 345.0,808.6 346.6,811.1 348.3,809.2 350.0,809.6 351.6,811.4 353.3,810.2 354.9,810.4 356.4,810.0 358.0,811.4 359.5,810.7 361.1,812.1 362.7,811.0 364.2,810.6 365.8,813.5 367.3,812.6 368.9,811.9 370.5,811.8 372.0,810.9 373.6,811.7 375.1,811.3 376.7,812.5 378.3,813.1 379.8,813.2 381.4,811.8 382.9,811.5 384.5,812.1 386.0,811.6 387.6,811.9 389.1,811.7 390.7,811.5 392.2,811.5 393.8,810.0 395.3,811.3 396.9,808.8 398.4,810.4 400.0,810.2 401.6,809.8 403.1,810.2 404.7,809.6 406.2,809.8 407.8,807.9 409.3,808.8 410.9,808.4 412.4,809.2 414.0,808.9 415.5,808.2 417.1,808.0 418.6,807.7 420.2,808.0 421.7,808.3 423.3,807.8 424.9,808.3 426.6,807.4 428.2,806.6 429.9,806.6 431.5,807.8 433.1,806.2 434.8,806.7 436.4,805.0 438.1,807.5 439.7,806.7 441.4,805.5 443.2,803.8 444.9,803.0 446.7,802.0 448.4,799.0 450.2,795.0 451.5,793.0" fill="none" stroke="#dd1a2a" stroke-width="2.2" stroke-linejoin="round" stroke-dasharray="0 3.9" stroke-linecap="round"/><polyline points="66.0,837.5 67.4,837.5 68.9,837.6 70.3,837.6 71.7,837.6 73.1,837.6 74.6,837.7 76.0,837.7 77.5,837.4 79.0,837.2 80.5,836.9 82.0,836.7 83.4,836.4 84.9,836.2 86.4,835.9 87.9,835.7 89.4,835.4 91.1,831.0 92.8,826.5 94.4,814.2 96.1,801.9 97.8,785.1 99.5,768.3 101.2,751.5 102.9,734.7 105.1,707.8 107.3,696.6 108.4,682.0 109.6,667.5 111.8,651.9 113.6,629.5 114.5,618.3 116.3,615.0 117.4,600.4 119.0,581.4 120.8,607.1 123.0,616.0 124.2,620.5 125.3,622.8 127.5,633.6 129.7,648.7 130.8,667.0 132.0,676.2 133.7,661.2 135.3,636.9 136.8,662.7 138.3,680.4 140.1,670.7 141.8,652.2 143.6,661.6 145.3,663.5 146.5,664.8 147.7,655.2 149.4,665.9 151.2,670.0 152.9,684.9 154.7,694.6 156.4,707.0 158.2,705.9 159.3,723.9 160.5,730.1 162.2,727.3 164.0,715.0 165.8,723.0 167.5,724.2 169.2,735.3 171.0,734.6 172.6,740.5 174.1,741.5 175.7,747.2 177.1,745.5 178.5,751.6 179.9,747.7 181.3,753.8 182.7,746.7 184.1,752.2 185.5,750.6 186.9,755.8 188.3,754.0 189.7,757.4 191.1,753.1 192.5,759.8 193.9,758.1 195.3,763.6 196.7,762.0 198.3,771.0 200.0,768.1 201.6,771.2 203.1,771.8 204.7,776.6 206.2,770.5 207.8,768.5 209.3,762.3 210.9,772.0 212.4,768.8 214.0,776.0 215.6,767.1 217.1,766.9 218.7,759.6 220.2,760.2 221.8,753.2 223.3,757.3 225.1,746.6 226.8,743.9 228.6,726.8 230.3,718.9 231.9,712.7 233.4,714.7 235.0,701.8 236.4,699.8 237.8,688.3 239.2,688.5 240.5,687.2 241.9,695.6 243.2,696.5 244.7,702.7 246.3,701.7 247.8,711.5 249.4,707.5 250.9,714.0 252.5,713.9 253.9,724.0 255.4,721.7 256.9,731.0 258.3,731.2 259.9,734.1 261.4,723.5 263.0,723.1 264.6,711.3 266.1,708.8 267.7,697.2 269.2,691.2 270.8,678.5 272.3,673.0 273.9,662.8 275.4,658.7 277.0,647.3 278.8,638.7 280.5,621.9 282.2,613.1 284.0,593.0 285.8,592.6 287.5,580.5 289.0,583.4 290.5,576.9 291.7,595.2 292.9,604.7 294.5,596.3 296.2,605.2 298.0,624.2 299.6,630.9 301.1,649.1 302.7,656.6 304.4,672.4 306.2,679.2 307.9,695.5 309.7,704.7 311.2,710.7 312.8,706.5 314.3,713.0 315.5,711.3 316.7,725.5 318.2,720.0 319.8,718.6 321.3,714.5 322.9,718.4 324.4,714.4 326.0,722.3 327.6,713.1 329.1,712.7 330.7,705.2 332.0,703.6 333.4,695.3 334.7,693.5 336.2,684.2 337.8,687.6 339.3,682.4 341.1,683.8 342.8,669.1 344.6,671.5 346.3,659.0 348.1,671.5 349.8,671.7 351.6,672.5 353.3,654.5 354.7,655.8 356.1,644.7 357.6,654.5 359.2,658.7 360.4,657.5 361.5,646.4 363.2,664.0 365.0,671.3 366.1,667.1 367.3,654.5 368.9,661.8 370.4,663.0 372.0,674.8 373.6,671.9 375.1,678.9 376.7,677.6 378.2,688.6 379.8,682.0 381.3,693.3 383.1,682.4 384.8,684.1 386.6,681.2 388.3,698.1 389.9,693.0 391.4,701.1 393.0,693.9 394.6,701.6 396.1,698.5 397.7,707.4 398.9,708.9 400.0,722.4 401.1,697.3 402.3,686.3 403.9,686.5 405.4,699.1 407.0,698.6 408.6,700.9 410.1,691.7 411.7,691.4 413.2,688.3 414.8,699.1 416.3,695.3 417.9,701.1 419.4,691.1 421.0,698.5 422.6,692.6 424.1,701.5 425.7,700.3 427.2,710.9 428.8,706.1 430.3,715.9 431.9,708.6 433.4,707.0 435.0,698.0 436.6,706.2 438.1,707.1 439.7,713.4 441.2,706.4 442.8,711.2 444.3,705.7 446.1,719.2 447.8,720.5 449.0,736.7 450.2,740.8 451.4,732.9 452.5,709.7 454.2,728.4 456.0,726.2 457.3,731.5 458.7,720.1 460.0,718.0 461.6,716.4 463.1,725.0 464.7,721.2 466.2,722.0 467.8,717.0 469.3,716.8 471.1,702.0 472.8,705.1 474.6,702.7 476.3,715.5 477.9,705.7 479.4,709.6 481.0,701.6 482.8,714.9 484.5,716.3 486.0,735.0 487.5,745.1 488.9,723.0 490.3,691.9 491.9,699.5 493.4,692.6 495.0,693.3 496.6,689.1 498.1,696.2 499.7,695.2 501.2,704.4 502.8,697.9 504.3,705.6 505.9,700.2 507.4,699.7 509.0,692.6 510.6,696.0 512.1,682.0 513.7,688.9 514.9,686.4 516.0,704.8 517.6,699.6 519.1,715.7 520.7,710.0 522.2,712.7 523.8,705.7 525.3,705.8 526.9,701.8 528.4,710.2 530.0,706.4 531.6,709.0 533.1,696.8 534.7,696.3 535.9,689.3 537.0,690.6 538.8,699.1 540.5,721.5 542.2,714.0 544.0,717.1 545.8,723.6 547.5,738.9 549.2,722.5 551.0,714.4 552.6,711.9 554.1,720.0 555.7,714.0 557.2,723.1 558.8,722.0 560.3,732.0 562.0,721.0 563.8,721.7 565.5,725.1 567.3,746.5 568.9,729.9 570.4,728.9 572.0,716.9 573.6,720.2 575.1,715.1 576.7,716.7 577.9,724.3 579.0,746.5 580.6,726.7 582.1,721.4 583.7,700.8 585.2,708.1 586.8,705.9 588.3,715.3 589.9,713.1 591.4,720.4 593.0,722.2 594.5,725.0 596.0,715.8 597.5,713.3" fill="none" stroke="#4438cc" stroke-width="1.15" stroke-linejoin="round" /><polyline points="66.0,837.7 67.4,837.8 68.9,837.9 70.3,838.0 71.7,838.0 73.1,838.1 74.6,838.2 76.0,838.3 77.6,838.2 79.1,838.2 80.7,838.1 82.3,838.1 83.8,838.0 85.4,837.9 87.0,837.9 88.6,837.8 90.1,837.8 91.7,837.7 93.1,834.9 94.5,832.1 95.9,829.3 97.3,826.5 98.8,822.0 100.2,817.5 101.7,813.0 103.4,807.5 105.1,801.9 106.8,796.3 108.5,790.7 110.2,785.1 111.8,779.5 113.5,773.9 115.2,768.3 117.4,754.9 119.0,748.1 120.8,756.6 123.0,759.2 124.7,756.6 126.4,762.8 128.1,755.6 129.7,760.8 130.8,757.4 132.0,764.8 133.3,757.7 134.7,758.3 136.0,751.6 137.2,761.9 138.3,757.8 140.1,746.5 141.8,725.8 143.6,737.2 145.3,737.1 147.1,739.9 148.8,734.7 150.6,746.5 152.3,747.5 154.1,761.9 155.8,766.1 157.6,776.4 159.3,774.3 160.9,782.3 162.4,774.2 164.0,776.8 165.6,779.1 167.1,783.4 168.7,781.5 170.2,790.4 171.8,790.1 173.3,799.1 174.7,792.4 176.1,795.7 177.5,790.0 178.9,791.8 180.3,787.5 181.7,795.5 183.1,792.1 184.5,795.8 185.9,793.9 187.3,797.8 188.9,796.5 190.4,804.2 192.0,798.9 193.4,805.5 194.8,800.0 196.2,805.8 197.6,803.1 199.0,808.6 200.4,804.5 201.8,808.6 203.3,804.9 204.7,809.7 206.4,803.3 208.2,803.4 209.6,796.6 211.1,804.1 212.6,801.1 214.0,805.6 215.6,799.7 217.1,801.0 218.7,793.9 220.2,790.4 221.8,781.9 223.3,779.7 225.1,771.0 226.8,773.0 228.6,754.1 230.3,748.3 231.9,741.1 233.4,741.9 235.0,736.4 236.8,734.1 238.5,723.3 240.2,737.1 242.0,745.3 243.6,749.8 245.1,746.4 246.7,752.6 248.4,749.1 250.2,758.4 251.7,753.2 253.3,756.3 254.8,748.9 256.6,764.8 258.3,768.9 260.1,759.4 261.8,743.6 263.4,737.3 264.9,722.2 266.5,715.4 268.2,694.2 270.0,683.3 271.8,666.6 273.5,658.3 275.2,644.6 277.0,640.6 278.8,626.1 280.5,620.5 281.6,624.3 282.8,631.8 284.6,630.0 286.3,632.4 288.1,637.9 289.8,647.9 291.6,644.8 293.3,655.0 295.1,663.3 296.8,680.4 298.6,686.4 300.3,701.5 302.1,705.3 303.8,722.1 305.6,725.3 307.3,741.1 309.1,741.8 310.8,754.8 312.6,753.2 314.3,759.0 315.9,750.9 317.4,753.1 319.0,743.0 320.6,747.2 322.1,739.1 323.7,743.6 325.2,733.8 326.8,737.9 328.3,727.6 329.6,727.7 331.0,713.7 332.2,705.8 333.5,682.3 335.2,677.9 337.0,657.4 338.1,664.2 339.3,649.2 341.1,659.3 342.8,655.6 344.6,674.9 346.3,684.0 347.5,675.6 348.7,651.2 350.4,664.3 352.2,670.4 353.9,675.1 355.7,674.4 357.4,679.3 359.2,674.8 360.4,694.1 361.5,694.0 363.2,698.0 365.0,685.8 366.8,697.4 368.5,695.5 369.6,695.8 370.8,681.8 372.6,694.2 374.3,696.9 375.9,707.8 377.4,704.8 379.0,714.9 380.8,702.6 382.5,704.5 384.2,700.0 386.0,715.0 387.6,707.1 389.1,707.5 390.7,700.8 392.2,704.0 393.8,703.0 395.3,709.2 396.9,701.0 398.4,708.6 400.0,702.0 401.8,703.0 403.5,690.3 405.1,702.5 406.6,703.3 408.2,713.8 409.9,704.1 411.7,706.1 413.2,699.4 414.8,706.1 416.3,701.0 418.1,715.2 419.8,716.1 421.6,727.0 423.3,720.2 424.9,729.2 426.4,723.4 428.0,735.4 429.8,728.5 431.5,743.4 433.1,735.9 434.6,739.4 436.2,727.0 437.3,755.8 438.9,746.1 440.4,743.5 442.0,729.8 443.3,748.2 444.7,752.6 446.0,766.1 447.5,752.9 449.0,744.6 450.8,742.5 452.5,756.2 454.0,755.5 455.5,768.0 456.8,752.1 458.2,753.3 459.5,742.5 461.2,743.4 463.0,729.4 464.7,734.9 466.2,735.4 467.8,743.6 469.3,743.3 471.1,736.7 472.8,714.7 474.4,720.5 475.9,708.7 477.5,716.6 479.1,710.4 480.6,714.8 482.2,711.5 483.9,708.2 485.7,695.8 486.9,718.4 488.0,724.7 489.8,708.9 491.5,681.6 492.6,681.9 493.8,674.6 495.6,689.3 497.3,684.1 499.1,685.9 500.8,675.3 502.6,692.1 504.3,694.7 506.1,700.7 507.8,695.7 509.6,715.6 511.3,726.1 512.9,730.9 514.4,720.0 516.0,726.4 517.6,721.4 519.1,734.7 520.7,730.6 522.2,740.0 523.8,733.3 525.3,743.6 526.9,739.4 528.4,747.4 530.0,744.5 531.6,748.0 533.1,743.2 534.7,749.2 536.2,743.8 537.8,750.6 539.3,744.8 540.9,754.8 542.4,745.1 544.0,753.1 545.6,753.7 547.1,762.3 548.7,766.3 550.2,766.0 551.8,755.2 553.3,758.4 554.9,756.3 556.4,761.6 558.0,755.3 559.6,758.3 561.1,750.5 562.7,756.0 564.5,763.3 566.2,781.5 568.0,764.7 569.7,756.8 571.2,757.1 572.8,764.2 574.3,760.2 575.9,764.5 577.4,753.8 579.0,760.5 580.6,755.5 582.1,763.7 583.7,756.4 585.2,761.2 586.8,753.6 588.3,760.6 590.0,759.7 591.8,770.2 593.5,754.3 595.3,751.8 597.5,755.3" fill="none" stroke="#000" stroke-width="1.6" stroke-linejoin="round" /></g><g clip-path="url(#cpd)"><polyline points="249.3,1115.0 255.0,1033.3 261.0,953.3 266.7,921.7 271.7,903.3 277.3,946.7 283.3,1003.3 289.3,1056.7 295.0,1086.7 300.7,1118.3 306.0,1096.7 311.7,1060.0 317.3,1026.7 323.3,1003.3 329.3,966.7 335.0,926.7 340.7,895.0 346.7,930.0 351.7,993.3 357.3,1060.0 363.3,1081.7 369.0,1070.0 374.3,1056.7 380.0,1000.0 385.7,943.3 391.7,906.7 397.7,869.5 404.0,895.0 409.3,951.0 415.2,1014.0 420.8,1038.5 426.8,1042.0 432.0,1057.8 437.3,1050.8 442.5,1066.5 448.8,1081.6 454.8,1031.5 460.0,1017.5 465.3,998.3 471.2,1010.5 477.5,986.0 482.8,933.5 488.7,911.8 495.0,933.5 501.0,954.5 506.6,998.3 511.8,994.8 517.8,1028.0 523.0,1030.8 529.3,1022.0 535.3,1019.3 540.5,1013.0 546.8,1036.8 551.7,1063.0 557.3,1061.3 563.3,1057.8 569.2,1013.0 574.8,1019.3 580.8,1050.8 586.0,1105.0" fill="none" stroke="#4438cc" stroke-width="1.15" stroke-linejoin="round" /><polyline points="249.3,1105.0 258.3,980.0 261.0,936.7 266.0,898.3 271.7,920.0 277.3,970.0 283.3,1020.0 289.3,1053.3 295.0,1086.7 300.0,1113.3 306.0,1121.7 311.7,1113.3 316.7,1066.7 323.3,1016.7 329.3,966.7 334.3,947.7 340.0,951.7 345.7,1000.0 351.7,1053.3 357.3,1078.3 363.3,1083.3 369.0,1061.7 374.3,1071.7 380.0,1056.7 385.7,1064.0 391.7,1013.3 397.0,986.0 403.0,964.3 409.3,1007.0 415.2,1056.0 420.8,1077.0 426.8,1077.0 432.0,1081.2 437.3,1077.0 443.2,1064.8 448.8,1047.3 454.8,1026.3 460.7,1036.0 466.3,1030.8 472.3,1035.0 477.5,1047.3 483.8,1035.0 489.0,1043.8 495.0,1036.8 501.0,1070.0 506.6,1082.3 511.8,1091.0 517.8,1087.5 524.0,1089.3 529.3,1066.5 535.3,1052.5 540.5,1054.3 546.5,1052.5 551.7,1078.8 557.3,1059.5 563.3,1080.5 569.2,1066.5 574.8,1081.2 580.8,1080.5 586.0,1091.0" fill="none" stroke="#000" stroke-width="1.75" stroke-linejoin="round" /></g><path d="M74.57 261.50v-7.6M74.57 2.50v7.6M91.72 261.50v-7.6M91.72 2.50v7.6M108.86 261.50v-15.3M108.86 2.50v15.3M126.01 261.50v-7.6M126.01 2.50v7.6M143.15 261.50v-7.6M143.15 2.50v7.6M160.30 261.50v-7.6M160.30 2.50v7.6M177.44 261.50v-7.6M177.44 2.50v7.6M194.59 261.50v-15.3M194.59 2.50v15.3M211.73 261.50v-7.6M211.73 2.50v7.6M228.88 261.50v-7.6M228.88 2.50v7.6M246.02 261.50v-7.6M246.02 2.50v7.6M263.17 261.50v-7.6M263.17 2.50v7.6M280.31 261.50v-15.3M280.31 2.50v15.3M297.46 261.50v-7.6M297.46 2.50v7.6M314.60 261.50v-7.6M314.60 2.50v7.6M331.75 261.50v-7.6M331.75 2.50v7.6M348.90 261.50v-7.6M348.90 2.50v7.6M366.04 261.50v-15.3M366.04 2.50v15.3M383.19 261.50v-7.6M383.19 2.50v7.6M400.33 261.50v-7.6M400.33 2.50v7.6M417.48 261.50v-7.6M417.48 2.50v7.6M434.62 261.50v-7.6M434.62 2.50v7.6M451.77 261.50v-15.3M451.77 2.50v15.3M468.91 261.50v-7.6M468.91 2.50v7.6M486.06 261.50v-7.6M486.06 2.50v7.6M503.20 261.50v-7.6M503.20 2.50v7.6M520.35 261.50v-7.6M520.35 2.50v7.6M537.49 261.50v-15.3M537.49 2.50v15.3M554.64 261.50v-7.6M554.64 2.50v7.6M571.78 261.50v-7.6M571.78 2.50v7.6M588.93 261.50v-7.6M588.93 2.50v7.6M66.0 250.39h5.5M597.5 250.39h-5.5M66.0 239.29h5.5M597.5 239.29h-5.5M66.0 228.18h5.5M597.5 228.18h-5.5M66.0 205.97h5.5M597.5 205.97h-5.5M66.0 194.86h5.5M597.5 194.86h-5.5M66.0 183.76h5.5M597.5 183.76h-5.5M66.0 161.55h5.5M597.5 161.55h-5.5M66.0 150.44h5.5M597.5 150.44h-5.5M66.0 139.33h5.5M597.5 139.33h-5.5M66.0 117.12h5.5M597.5 117.12h-5.5M66.0 106.02h5.5M597.5 106.02h-5.5M66.0 94.91h5.5M597.5 94.91h-5.5M66.0 72.70h5.5M597.5 72.70h-5.5M66.0 61.59h5.5M597.5 61.59h-5.5M66.0 50.49h5.5M597.5 50.49h-5.5M66.0 28.27h5.5M597.5 28.27h-5.5M66.0 17.17h5.5M597.5 17.17h-5.5M66.0 6.06h5.5M597.5 6.06h-5.5M66.0 217.08h10.5M597.5 217.08h-10.5M66.0 172.65h10.5M597.5 172.65h-10.5M66.0 128.23h10.5M597.5 128.23h-10.5M66.0 83.80h10.5M597.5 83.80h-10.5M66.0 39.38h10.5M597.5 39.38h-10.5" stroke="#000" stroke-width="1.3" fill="none"/><rect x="66.0" y="2.5" width="531.5" height="259.0" stroke="#000" stroke-width="1.5" fill="none"/><text x="61.2" y="223.3" text-anchor="end" stroke="#000">40</text><text x="61.2" y="178.9" text-anchor="end" stroke="#000">80</text><text x="61.2" y="134.4" text-anchor="end" stroke="#000">120</text><text x="61.2" y="90.0" text-anchor="end" stroke="#000">160</text><text x="61.2" y="45.6" text-anchor="end" stroke="#000">200</text><path d="M74.57 550.00v-7.6M74.57 290.75v7.6M91.72 550.00v-7.6M91.72 290.75v7.6M108.86 550.00v-15.3M108.86 290.75v15.3M126.01 550.00v-7.6M126.01 290.75v7.6M143.15 550.00v-7.6M143.15 290.75v7.6M160.30 550.00v-7.6M160.30 290.75v7.6M177.44 550.00v-7.6M177.44 290.75v7.6M194.59 550.00v-15.3M194.59 290.75v15.3M211.73 550.00v-7.6M211.73 290.75v7.6M228.88 550.00v-7.6M228.88 290.75v7.6M246.02 550.00v-7.6M246.02 290.75v7.6M263.17 550.00v-7.6M263.17 290.75v7.6M280.31 550.00v-15.3M280.31 290.75v15.3M297.46 550.00v-7.6M297.46 290.75v7.6M314.60 550.00v-7.6M314.60 290.75v7.6M331.75 550.00v-7.6M331.75 290.75v7.6M348.90 550.00v-7.6M348.90 290.75v7.6M366.04 550.00v-15.3M366.04 290.75v15.3M383.19 550.00v-7.6M383.19 290.75v7.6M400.33 550.00v-7.6M400.33 290.75v7.6M417.48 550.00v-7.6M417.48 290.75v7.6M434.62 550.00v-7.6M434.62 290.75v7.6M451.77 550.00v-15.3M451.77 290.75v15.3M468.91 550.00v-7.6M468.91 290.75v7.6M486.06 550.00v-7.6M486.06 290.75v7.6M503.20 550.00v-7.6M503.20 290.75v7.6M520.35 550.00v-7.6M520.35 290.75v7.6M537.49 550.00v-15.3M537.49 290.75v15.3M554.64 550.00v-7.6M554.64 290.75v7.6M571.78 550.00v-7.6M571.78 290.75v7.6M588.93 550.00v-7.6M588.93 290.75v7.6M66.0 294.45h5.5M597.5 294.45h-5.5M66.0 298.16h5.5M597.5 298.16h-5.5M66.0 301.86h5.5M597.5 301.86h-5.5M66.0 305.57h5.5M597.5 305.57h-5.5M66.0 309.27h5.5M597.5 309.27h-5.5M66.0 312.97h5.5M597.5 312.97h-5.5M66.0 316.68h5.5M597.5 316.68h-5.5M66.0 320.38h5.5M597.5 320.38h-5.5M66.0 324.09h5.5M597.5 324.09h-5.5M66.0 331.49h5.5M597.5 331.49h-5.5M66.0 335.20h5.5M597.5 335.20h-5.5M66.0 338.90h5.5M597.5 338.90h-5.5M66.0 342.61h5.5M597.5 342.61h-5.5M66.0 346.31h5.5M597.5 346.31h-5.5M66.0 350.01h5.5M597.5 350.01h-5.5M66.0 353.72h5.5M597.5 353.72h-5.5M66.0 357.42h5.5M597.5 357.42h-5.5M66.0 361.13h5.5M597.5 361.13h-5.5M66.0 368.53h5.5M597.5 368.53h-5.5M66.0 372.24h5.5M597.5 372.24h-5.5M66.0 375.94h5.5M597.5 375.94h-5.5M66.0 379.65h5.5M597.5 379.65h-5.5M66.0 383.35h5.5M597.5 383.35h-5.5M66.0 387.05h5.5M597.5 387.05h-5.5M66.0 390.76h5.5M597.5 390.76h-5.5M66.0 394.46h5.5M597.5 394.46h-5.5M66.0 398.17h5.5M597.5 398.17h-5.5M66.0 405.57h5.5M597.5 405.57h-5.5M66.0 409.28h5.5M597.5 409.28h-5.5M66.0 412.98h5.5M597.5 412.98h-5.5M66.0 416.69h5.5M597.5 416.69h-5.5M66.0 420.39h5.5M597.5 420.39h-5.5M66.0 424.09h5.5M597.5 424.09h-5.5M66.0 427.80h5.5M597.5 427.80h-5.5M66.0 431.50h5.5M597.5 431.50h-5.5M66.0 435.21h5.5M597.5 435.21h-5.5M66.0 442.61h5.5M597.5 442.61h-5.5M66.0 446.32h5.5M597.5 446.32h-5.5M66.0 450.02h5.5M597.5 450.02h-5.5M66.0 453.73h5.5M597.5 453.73h-5.5M66.0 457.43h5.5M597.5 457.43h-5.5M66.0 461.13h5.5M597.5 461.13h-5.5M66.0 464.84h5.5M597.5 464.84h-5.5M66.0 468.54h5.5M597.5 468.54h-5.5M66.0 472.25h5.5M597.5 472.25h-5.5M66.0 479.65h5.5M597.5 479.65h-5.5M66.0 483.36h5.5M597.5 483.36h-5.5M66.0 487.06h5.5M597.5 487.06h-5.5M66.0 490.77h5.5M597.5 490.77h-5.5M66.0 494.47h5.5M597.5 494.47h-5.5M66.0 498.17h5.5M597.5 498.17h-5.5M66.0 501.88h5.5M597.5 501.88h-5.5M66.0 505.58h5.5M597.5 505.58h-5.5M66.0 509.29h5.5M597.5 509.29h-5.5M66.0 516.69h5.5M597.5 516.69h-5.5M66.0 520.40h5.5M597.5 520.40h-5.5M66.0 524.10h5.5M597.5 524.10h-5.5M66.0 527.81h5.5M597.5 527.81h-5.5M66.0 531.51h5.5M597.5 531.51h-5.5M66.0 535.21h5.5M597.5 535.21h-5.5M66.0 538.92h5.5M597.5 538.92h-5.5M66.0 542.62h5.5M597.5 542.62h-5.5M66.0 546.33h5.5M597.5 546.33h-5.5M66.0 327.79h10.5M597.5 327.79h-10.5M66.0 364.83h10.5M597.5 364.83h-10.5M66.0 401.87h10.5M597.5 401.87h-10.5M66.0 438.91h10.5M597.5 438.91h-10.5M66.0 475.95h10.5M597.5 475.95h-10.5M66.0 512.99h10.5M597.5 512.99h-10.5" stroke="#000" stroke-width="1.3" fill="none"/><rect x="66.0" y="290.75" width="531.5" height="259.25" stroke="#000" stroke-width="1.5" fill="none"/><text x="61.2" y="334.0" text-anchor="end" stroke="#000">-20</text><text x="61.2" y="371.0" text-anchor="end" stroke="#000">-40</text><text x="61.2" y="408.1" text-anchor="end" stroke="#000">-60</text><text x="61.2" y="445.1" text-anchor="end" stroke="#000">-80</text><text x="61.2" y="482.2" text-anchor="end" stroke="#000">-100</text><text x="61.2" y="519.2" text-anchor="end" stroke="#000">-120</text><text x="61.2" y="550.2" text-anchor="end" stroke="#000">-140</text><path d="M74.57 838.50v-7.6M74.57 579.60v7.6M91.72 838.50v-7.6M91.72 579.60v7.6M108.86 838.50v-15.3M108.86 579.60v15.3M126.01 838.50v-7.6M126.01 579.60v7.6M143.15 838.50v-7.6M143.15 579.60v7.6M160.30 838.50v-7.6M160.30 579.60v7.6M177.44 838.50v-7.6M177.44 579.60v7.6M194.59 838.50v-15.3M194.59 579.60v15.3M211.73 838.50v-7.6M211.73 579.60v7.6M228.88 838.50v-7.6M228.88 579.60v7.6M246.02 838.50v-7.6M246.02 579.60v7.6M263.17 838.50v-7.6M263.17 579.60v7.6M280.31 838.50v-15.3M280.31 579.60v15.3M297.46 838.50v-7.6M297.46 579.60v7.6M314.60 838.50v-7.6M314.60 579.60v7.6M331.75 838.50v-7.6M331.75 579.60v7.6M348.90 838.50v-7.6M348.90 579.60v7.6M366.04 838.50v-15.3M366.04 579.60v15.3M383.19 838.50v-7.6M383.19 579.60v7.6M400.33 838.50v-7.6M400.33 579.60v7.6M417.48 838.50v-7.6M417.48 579.60v7.6M434.62 838.50v-7.6M434.62 579.60v7.6M451.77 838.50v-15.3M451.77 579.60v15.3M468.91 838.50v-7.6M468.91 579.60v7.6M486.06 838.50v-7.6M486.06 579.60v7.6M503.20 838.50v-7.6M503.20 579.60v7.6M520.35 838.50v-7.6M520.35 579.60v7.6M537.49 838.50v-15.3M537.49 579.60v15.3M554.64 838.50v-7.6M554.64 579.60v7.6M571.78 838.50v-7.6M571.78 579.60v7.6M588.93 838.50v-7.6M588.93 579.60v7.6M66.0 835.47h5.5M597.5 835.47h-5.5M66.0 830.79h5.5M597.5 830.79h-5.5M66.0 826.10h5.5M597.5 826.10h-5.5M66.0 821.42h5.5M597.5 821.42h-5.5M66.0 816.73h5.5M597.5 816.73h-5.5M66.0 812.04h5.5M597.5 812.04h-5.5M66.0 807.36h5.5M597.5 807.36h-5.5M66.0 802.67h5.5M597.5 802.67h-5.5M66.0 797.99h5.5M597.5 797.99h-5.5M66.0 788.61h5.5M597.5 788.61h-5.5M66.0 783.93h5.5M597.5 783.93h-5.5M66.0 779.24h5.5M597.5 779.24h-5.5M66.0 774.56h5.5M597.5 774.56h-5.5M66.0 769.87h5.5M597.5 769.87h-5.5M66.0 765.18h5.5M597.5 765.18h-5.5M66.0 760.50h5.5M597.5 760.50h-5.5M66.0 755.81h5.5M597.5 755.81h-5.5M66.0 751.13h5.5M597.5 751.13h-5.5M66.0 741.75h5.5M597.5 741.75h-5.5M66.0 737.07h5.5M597.5 737.07h-5.5M66.0 732.38h5.5M597.5 732.38h-5.5M66.0 727.70h5.5M597.5 727.70h-5.5M66.0 723.01h5.5M597.5 723.01h-5.5M66.0 718.32h5.5M597.5 718.32h-5.5M66.0 713.64h5.5M597.5 713.64h-5.5M66.0 708.95h5.5M597.5 708.95h-5.5M66.0 704.27h5.5M597.5 704.27h-5.5M66.0 694.89h5.5M597.5 694.89h-5.5M66.0 690.21h5.5M597.5 690.21h-5.5M66.0 685.52h5.5M597.5 685.52h-5.5M66.0 680.84h5.5M597.5 680.84h-5.5M66.0 676.15h5.5M597.5 676.15h-5.5M66.0 671.46h5.5M597.5 671.46h-5.5M66.0 666.78h5.5M597.5 666.78h-5.5M66.0 662.09h5.5M597.5 662.09h-5.5M66.0 657.41h5.5M597.5 657.41h-5.5M66.0 648.03h5.5M597.5 648.03h-5.5M66.0 643.35h5.5M597.5 643.35h-5.5M66.0 638.66h5.5M597.5 638.66h-5.5M66.0 633.98h5.5M597.5 633.98h-5.5M66.0 629.29h5.5M597.5 629.29h-5.5M66.0 624.60h5.5M597.5 624.60h-5.5M66.0 619.92h5.5M597.5 619.92h-5.5M66.0 615.23h5.5M597.5 615.23h-5.5M66.0 610.55h5.5M597.5 610.55h-5.5M66.0 601.17h5.5M597.5 601.17h-5.5M66.0 596.49h5.5M597.5 596.49h-5.5M66.0 591.80h5.5M597.5 591.80h-5.5M66.0 587.12h5.5M597.5 587.12h-5.5M66.0 582.43h5.5M597.5 582.43h-5.5M66.0 793.30h10.5M597.5 793.30h-10.5M66.0 746.44h10.5M597.5 746.44h-10.5M66.0 699.58h10.5M597.5 699.58h-10.5M66.0 652.72h10.5M597.5 652.72h-10.5M66.0 605.86h10.5M597.5 605.86h-10.5" stroke="#000" stroke-width="1.3" fill="none"/><rect x="66.0" y="579.6" width="531.5" height="258.9" stroke="#000" stroke-width="1.5" fill="none"/><text x="61.2" y="799.5" text-anchor="end" stroke="#000">20</text><text x="61.2" y="752.6" text-anchor="end" stroke="#000">40</text><text x="61.2" y="705.8" text-anchor="end" stroke="#000">60</text><text x="61.2" y="658.9" text-anchor="end" stroke="#000">80</text><text x="61.2" y="612.1" text-anchor="end" stroke="#000">100</text><path d="M74.57 1127.90v-7.6M74.57 868.30v7.6M91.72 1127.90v-7.6M91.72 868.30v7.6M108.86 1127.90v-15.3M108.86 868.30v15.3M126.01 1127.90v-7.6M126.01 868.30v7.6M143.15 1127.90v-7.6M143.15 868.30v7.6M160.30 1127.90v-7.6M160.30 868.30v7.6M177.44 1127.90v-7.6M177.44 868.30v7.6M194.59 1127.90v-15.3M194.59 868.30v15.3M211.73 1127.90v-7.6M211.73 868.30v7.6M228.88 1127.90v-7.6M228.88 868.30v7.6M246.02 1127.90v-7.6M246.02 868.30v7.6M263.17 1127.90v-7.6M263.17 868.30v7.6M280.31 1127.90v-15.3M280.31 868.30v15.3M297.46 1127.90v-7.6M297.46 868.30v7.6M314.60 1127.90v-7.6M314.60 868.30v7.6M331.75 1127.90v-7.6M331.75 868.30v7.6M348.90 1127.90v-7.6M348.90 868.30v7.6M366.04 1127.90v-15.3M366.04 868.30v15.3M383.19 1127.90v-7.6M383.19 868.30v7.6M400.33 1127.90v-7.6M400.33 868.30v7.6M417.48 1127.90v-7.6M417.48 868.30v7.6M434.62 1127.90v-7.6M434.62 868.30v7.6M451.77 1127.90v-15.3M451.77 868.30v15.3M468.91 1127.90v-7.6M468.91 868.30v7.6M486.06 1127.90v-7.6M486.06 868.30v7.6M503.20 1127.90v-7.6M503.20 868.30v7.6M520.35 1127.90v-7.6M520.35 868.30v7.6M537.49 1127.90v-15.3M537.49 868.30v15.3M554.64 1127.90v-7.6M554.64 868.30v7.6M571.78 1127.90v-7.6M571.78 868.30v7.6M588.93 1127.90v-7.6M588.93 868.30v7.6M66.0 1123.57h5.5M597.5 1123.57h-5.5M66.0 1119.24h5.5M597.5 1119.24h-5.5M66.0 1114.91h5.5M597.5 1114.91h-5.5M66.0 1110.58h5.5M597.5 1110.58h-5.5M66.0 1106.25h5.5M597.5 1106.25h-5.5M66.0 1101.92h5.5M597.5 1101.92h-5.5M66.0 1097.59h5.5M597.5 1097.59h-5.5M66.0 1093.26h5.5M597.5 1093.26h-5.5M66.0 1088.93h5.5M597.5 1088.93h-5.5M66.0 1080.27h5.5M597.5 1080.27h-5.5M66.0 1075.94h5.5M597.5 1075.94h-5.5M66.0 1071.61h5.5M597.5 1071.61h-5.5M66.0 1067.28h5.5M597.5 1067.28h-5.5M66.0 1062.95h5.5M597.5 1062.95h-5.5M66.0 1058.62h5.5M597.5 1058.62h-5.5M66.0 1054.29h5.5M597.5 1054.29h-5.5M66.0 1049.96h5.5M597.5 1049.96h-5.5M66.0 1045.63h5.5M597.5 1045.63h-5.5M66.0 1036.97h5.5M597.5 1036.97h-5.5M66.0 1032.64h5.5M597.5 1032.64h-5.5M66.0 1028.31h5.5M597.5 1028.31h-5.5M66.0 1023.98h5.5M597.5 1023.98h-5.5M66.0 1019.65h5.5M597.5 1019.65h-5.5M66.0 1015.32h5.5M597.5 1015.32h-5.5M66.0 1010.99h5.5M597.5 1010.99h-5.5M66.0 1006.66h5.5M597.5 1006.66h-5.5M66.0 1002.33h5.5M597.5 1002.33h-5.5M66.0 993.67h5.5M597.5 993.67h-5.5M66.0 989.34h5.5M597.5 989.34h-5.5M66.0 985.01h5.5M597.5 985.01h-5.5M66.0 980.68h5.5M597.5 980.68h-5.5M66.0 976.35h5.5M597.5 976.35h-5.5M66.0 972.02h5.5M597.5 972.02h-5.5M66.0 967.69h5.5M597.5 967.69h-5.5M66.0 963.36h5.5M597.5 963.36h-5.5M66.0 959.03h5.5M597.5 959.03h-5.5M66.0 950.37h5.5M597.5 950.37h-5.5M66.0 946.04h5.5M597.5 946.04h-5.5M66.0 941.71h5.5M597.5 941.71h-5.5M66.0 937.38h5.5M597.5 937.38h-5.5M66.0 933.05h5.5M597.5 933.05h-5.5M66.0 928.72h5.5M597.5 928.72h-5.5M66.0 924.39h5.5M597.5 924.39h-5.5M66.0 920.06h5.5M597.5 920.06h-5.5M66.0 915.73h5.5M597.5 915.73h-5.5M66.0 907.07h5.5M597.5 907.07h-5.5M66.0 902.74h5.5M597.5 902.74h-5.5M66.0 898.41h5.5M597.5 898.41h-5.5M66.0 894.08h5.5M597.5 894.08h-5.5M66.0 889.75h5.5M597.5 889.75h-5.5M66.0 885.42h5.5M597.5 885.42h-5.5M66.0 881.09h5.5M597.5 881.09h-5.5M66.0 876.76h5.5M597.5 876.76h-5.5M66.0 872.43h5.5M597.5 872.43h-5.5M66.0 1084.60h10.5M597.5 1084.60h-10.5M66.0 1041.30h10.5M597.5 1041.30h-10.5M66.0 998.00h10.5M597.5 998.00h-10.5M66.0 954.70h10.5M597.5 954.70h-10.5M66.0 911.40h10.5M597.5 911.40h-10.5" stroke="#000" stroke-width="1.3" fill="none"/><rect x="66.0" y="868.3" width="531.5" height="259.60000000000014" stroke="#000" stroke-width="1.5" fill="none"/><text x="61.2" y="1128.1" text-anchor="end" stroke="#000">2</text><text x="61.2" y="1090.8" text-anchor="end" stroke="#000">3</text><text x="61.2" y="1047.5" text-anchor="end" stroke="#000">4</text><text x="61.2" y="1004.2" text-anchor="end" stroke="#000">5</text><text x="61.2" y="960.9" text-anchor="end" stroke="#000">6</text><text x="61.2" y="917.6" text-anchor="end" stroke="#000">7</text><text x="61.2" y="879.7" text-anchor="end" stroke="#000">8</text><line x1="230" y1="261.2" x2="279" y2="261.2" stroke="#22dd22" stroke-width="1.5" stroke-dasharray="7 3"/><line x1="109" y1="838.3" x2="302" y2="838.3" stroke="#22dd22" stroke-width="1.5" stroke-dasharray="7 3"/><text x="108.9" y="283.8" text-anchor="middle" stroke="#000">00:55</text><text x="194.6" y="283.8" text-anchor="middle" stroke="#000">01:00</text><text x="280.3" y="283.8" text-anchor="middle" stroke="#000">01:05</text><text x="366.0" y="283.8" text-anchor="middle" stroke="#000">01:10</text><text x="451.8" y="283.8" text-anchor="middle" stroke="#000">01:15</text><text x="537.5" y="283.8" text-anchor="middle" stroke="#000">01:20</text><text x="108.9" y="572.4" text-anchor="middle" stroke="#000">00:55</text><text x="194.6" y="572.4" text-anchor="middle" stroke="#000">01:00</text><text x="280.3" y="572.4" text-anchor="middle" stroke="#000">01:05</text><text x="366.0" y="572.4" text-anchor="middle" stroke="#000">01:10</text><text x="451.8" y="572.4" text-anchor="middle" stroke="#000">01:15</text><text x="537.5" y="572.4" text-anchor="middle" stroke="#000">01:20</text><text x="108.9" y="861.0" text-anchor="middle" stroke="#000">00:55</text><text x="194.6" y="861.0" text-anchor="middle" stroke="#000">01:00</text><text x="280.3" y="861.0" text-anchor="middle" stroke="#000">01:05</text><text x="366.0" y="861.0" text-anchor="middle" stroke="#000">01:10</text><text x="451.8" y="861.0" text-anchor="middle" stroke="#000">01:15</text><text x="537.5" y="861.0" text-anchor="middle" stroke="#000">01:20</text><text x="108.9" y="1149.5" text-anchor="middle" stroke="#000">00:55</text><text x="194.6" y="1149.5" text-anchor="middle" stroke="#000">01:00</text><text x="280.3" y="1149.5" text-anchor="middle" stroke="#000">01:05</text><text x="366.0" y="1149.5" text-anchor="middle" stroke="#000">01:10</text><text x="451.8" y="1149.5" text-anchor="middle" stroke="#000">01:15</text><text x="537.5" y="1149.5" text-anchor="middle" stroke="#000">01:20</text><text x="152.5" y="27.8" text-anchor="middle" stroke="#000">1</text><text x="227.5" y="27.8" text-anchor="middle" stroke="#000">2</text><text x="285" y="27.8" text-anchor="middle" stroke="#000">3</text><text x="341.7" y="27.8" text-anchor="middle" stroke="#000">4</text><text x="410" y="27.8" text-anchor="middle" stroke="#000">5</text><text x="496" y="27.8" text-anchor="middle" stroke="#000">6</text><text x="563.5" y="35.8" text-anchor="middle" font-size="19.5" stroke="#000">(a)</text><text x="563.5" y="517.6" text-anchor="middle" font-size="19.5" stroke="#000">(b)</text><text x="563.5" y="612.6" text-anchor="middle" font-size="19.5" stroke="#000">(c)</text><text x="563.5" y="907.6" text-anchor="middle" font-size="19.5" stroke="#000">(d)</text><text x="137.5" y="68" fill="#2619bd" stroke="#2619bd">SFP</text><text x="165.4" y="139.7" fill="#dd1a2a" stroke="#dd1a2a">LT<tspan font-size="10.5" dy="4">1</tspan></text><text x="131.3" y="228.5" fill="#000" stroke="#000">NFP</text><text x="474" y="210.5" fill="#22dd22" stroke="#22dd22">LT<tspan font-size="10.5" dy="4">2</tspan></text><text x="114.5" y="346.8" fill="#dd1a2a" stroke="#dd1a2a">LT<tspan font-size="10.5" dy="4">1</tspan></text><text x="114.5" y="420.5" fill="#000" stroke="#000">NFP</text><text x="140" y="512.5" fill="#2619bd" stroke="#2619bd">SFP</text><text x="139" y="629.5" fill="#2619bd" stroke="#2619bd">SFP</text><text x="176.5" y="671" fill="#dd1a2a" stroke="#dd1a2a">LT<tspan font-size="10.5" dy="4">1</tspan></text><text x="130.9" y="812.3" fill="#000" stroke="#000">NFP</text><text x="552.8" y="807.5" fill="#22dd22" stroke="#22dd22">LT<tspan font-size="10.5" dy="4">2</tspan></text><text x="506.3" y="976.6" fill="#2619bd" stroke="#2619bd">SFP</text><text x="506.4" y="1114.9" fill="#000" stroke="#000">NFP</text><text x="91.8" y="954.7" font-size="21" stroke="#000">25-50 keV</text><text transform="translate(19,131.7) rotate(-90)" text-anchor="middle" stroke="#000">F<tspan font-size="10.5" dy="4">17-I</tspan><tspan dy="-4"> [sfu]</tspan></text><text transform="translate(13,421) rotate(-90)" text-anchor="middle" stroke="#000">F<tspan font-size="10.5" dy="4">17-V</tspan><tspan dy="-4"> [sfu]</tspan></text><text transform="translate(19,709) rotate(-90)" text-anchor="middle" stroke="#000">F<tspan font-size="10.5" dy="4">34</tspan><tspan dy="-4"> [sfu]</tspan></text><text transform="translate(38.5,997.5) rotate(-90)" text-anchor="middle" stroke="#000">RHESSI Flux [s<tspan font-size="10.5" dy="-6">-1</tspan><tspan dy="6">]</tspan></text><text x="331.5" y="1167" text-anchor="middle" stroke="#000">Time, UT</text></svg></body></html>
